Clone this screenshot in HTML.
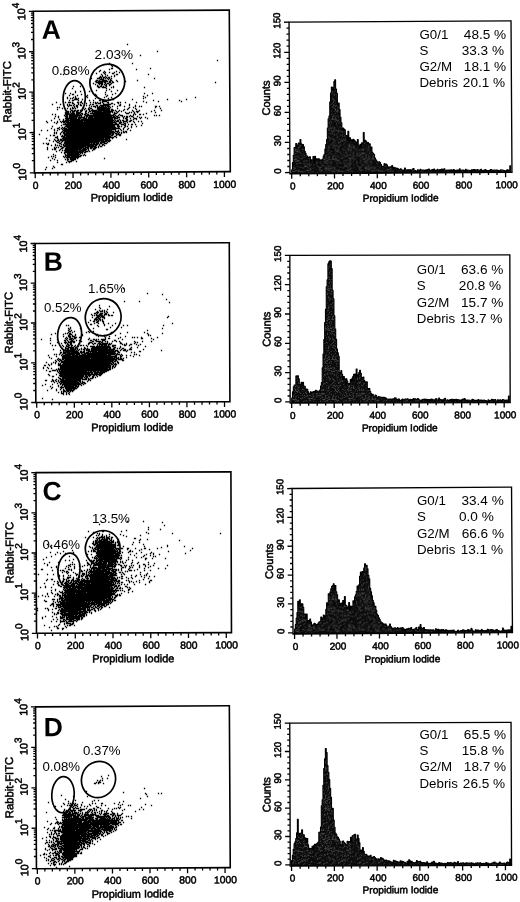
<!DOCTYPE html>
<html lang="en"><head><meta charset="utf-8"><title>Cell cycle analysis</title><style>html,body{margin:0;padding:0;background:#fff}svg{display:block}.b{stroke:#000;stroke-width:.5px}</style></head><body>
<svg width="520" height="902" viewBox="0 0 520 902" font-family='"Liberation Sans", sans-serif' fill="#000">
<defs><pattern id="hp" width="40" height="40" patternUnits="userSpaceOnUse"><rect width="40" height="40" fill="#0b0b0b"/><path d="M0 0.5h1M17 0.5h1M11 1.5h1M26 1.5h1M28 1.5h1M11 2.5h1M7 3.5h1M24 3.5h1M28 4.5h1M1 5.5h1M4 5.5h1M25 5.5h1M28 5.5h1M33 5.5h1M16 6.5h1M35 6.5h1M21 7.5h1M33 7.5h1M9 8.5h1M27 8.5h1M8 9.5h1M9 9.5h1M14 9.5h1M18 9.5h1M35 9.5h1M2 10.5h1M6 10.5h1M19 11.5h1M30 11.5h1M7 12.5h1M11 12.5h1M17 12.5h1M21 12.5h1M27 12.5h1M37 12.5h1M38 12.5h1M16 13.5h1M24 13.5h1M35 13.5h1M2 14.5h1M5 14.5h1M13 14.5h1M5 15.5h1M16 15.5h1M18 16.5h1M34 16.5h1M9 17.5h1M12 17.5h1M32 17.5h1M34 17.5h1M8 18.5h1M9 18.5h1M12 18.5h1M3 19.5h1M35 19.5h1M2 20.5h1M15 21.5h1M7 22.5h1M31 22.5h1M5 23.5h1M7 23.5h1M28 24.5h1M2 25.5h1M8 25.5h1M10 25.5h1M19 25.5h1M9 26.5h1M12 26.5h1M24 26.5h1M37 26.5h1M5 27.5h1M9 27.5h1M24 27.5h1M30 27.5h1M37 27.5h1M17 28.5h1M18 28.5h1M29 29.5h1M30 29.5h1M35 29.5h1M5 30.5h1M25 30.5h1M31 30.5h1M7 31.5h1M10 31.5h1M19 31.5h1M26 31.5h1M33 31.5h1M35 31.5h1M6 32.5h1M33 32.5h1M32 33.5h1M0 34.5h1M7 34.5h1M14 34.5h1M21 34.5h1M26 34.5h1M20 35.5h1M32 35.5h1M35 35.5h1M1 36.5h1M9 36.5h1M18 36.5h1M31 36.5h1M15 37.5h1M33 37.5h1M39 37.5h1M22 38.5h1M32 38.5h1M21 39.5h1M35 39.5h1M39 39.5h1" stroke="#222222" stroke-width="1" fill="none"/><path d="M3 0.5h1M14 0.5h1M24 0.5h1M33 0.5h1M4 1.5h1M25 1.5h1M33 1.5h1M36 1.5h1M0 3.5h1M1 4.5h1M16 4.5h1M24 4.5h1M17 6.5h1M10 7.5h1M12 7.5h1M13 7.5h1M14 7.5h1M20 7.5h1M30 8.5h1M32 8.5h1M38 8.5h1M39 8.5h1M30 9.5h1M11 10.5h1M30 10.5h1M4 11.5h1M21 11.5h1M30 12.5h1M9 13.5h1M29 13.5h1M0 14.5h1M16 14.5h1M27 14.5h1M35 14.5h1M21 15.5h1M25 15.5h1M39 15.5h1M3 16.5h1M8 16.5h1M16 16.5h1M36 16.5h1M39 17.5h1M16 18.5h1M21 18.5h1M25 18.5h1M9 19.5h1M10 19.5h1M3 20.5h1M25 20.5h1M13 21.5h1M27 21.5h1M20 22.5h1M30 22.5h1M34 22.5h1M38 22.5h1M10 24.5h1M6 25.5h1M32 25.5h1M8 26.5h1M25 27.5h1M1 28.5h1M1 29.5h1M36 29.5h1M27 30.5h1M29 30.5h1M35 30.5h1M37 30.5h1M14 31.5h1M22 31.5h1M28 31.5h1M37 31.5h1M3 34.5h1M8 34.5h1M32 34.5h1M17 35.5h1M33 35.5h1M8 36.5h1M12 36.5h1M15 36.5h1M16 36.5h1M25 36.5h1M27 36.5h1M38 36.5h1M1 37.5h1M32 37.5h1M36 37.5h1M21 38.5h1M30 38.5h1M33 38.5h1M16 39.5h1M32 39.5h1" stroke="#2c2c2c" stroke-width="1" fill="none"/><path d="M7 1.5h1M10 1.5h1M9 2.5h1M29 2.5h1M31 2.5h1M39 2.5h1M4 3.5h1M11 3.5h1M18 3.5h1M26 3.5h1M33 4.5h1M36 4.5h1M24 5.5h1M29 5.5h1M2 6.5h1M5 6.5h1M5 7.5h1M7 7.5h1M19 7.5h1M38 7.5h1M39 7.5h1M22 8.5h1M29 8.5h1M5 9.5h1M0 10.5h1M5 10.5h1M15 10.5h1M12 11.5h1M14 11.5h1M17 11.5h1M22 11.5h1M24 11.5h1M32 11.5h1M28 12.5h1M29 12.5h1M32 12.5h1M7 13.5h1M10 13.5h1M18 13.5h1M25 13.5h1M36 13.5h1M11 14.5h1M14 14.5h1M22 14.5h1M4 15.5h1M27 15.5h1M6 17.5h1M10 18.5h1M6 19.5h1M12 19.5h1M25 19.5h1M1 20.5h1M9 20.5h1M25 21.5h1M19 22.5h1M39 22.5h1M3 23.5h1M4 23.5h1M15 23.5h1M24 23.5h1M11 24.5h1M27 25.5h1M29 25.5h1M31 25.5h1M38 25.5h1M2 26.5h1M17 26.5h1M19 26.5h1M13 27.5h1M29 27.5h1M31 27.5h1M6 28.5h1M31 28.5h1M34 28.5h1M17 29.5h1M23 29.5h1M2 30.5h1M7 30.5h1M24 30.5h1M28 30.5h1M11 31.5h1M17 32.5h1M30 32.5h1M31 32.5h1M2 33.5h1M9 33.5h1M23 33.5h1M36 33.5h1M37 33.5h1M29 34.5h1M6 35.5h1M13 35.5h1M30 35.5h1M37 35.5h1M38 35.5h1M5 37.5h1M9 37.5h1M12 37.5h1M0 38.5h1M2 39.5h1M11 39.5h1M14 39.5h1M29 39.5h1" stroke="#363636" stroke-width="1" fill="none"/><path d="M6 0.5h1M7 0.5h1M16 0.5h1M26 0.5h1M29 0.5h1M30 0.5h1M5 1.5h1M15 1.5h1M3 2.5h1M19 2.5h1M36 2.5h1M9 3.5h1M16 3.5h1M23 3.5h1M36 3.5h1M7 5.5h1M10 5.5h1M25 6.5h1M29 6.5h1M23 7.5h1M27 7.5h1M4 8.5h1M6 8.5h1M8 8.5h1M10 8.5h1M13 9.5h1M29 9.5h1M1 10.5h1M8 10.5h1M9 10.5h1M16 10.5h1M18 10.5h1M28 10.5h1M38 10.5h1M0 11.5h1M11 11.5h1M18 11.5h1M22 12.5h1M12 13.5h1M14 15.5h1M20 15.5h1M24 15.5h1M35 15.5h1M26 16.5h1M32 16.5h1M0 17.5h1M8 17.5h1M19 19.5h1M27 19.5h1M17 20.5h1M21 20.5h1M22 20.5h1M20 21.5h1M18 22.5h1M12 23.5h1M37 23.5h1M3 24.5h1M23 24.5h1M29 24.5h1M14 25.5h1M16 25.5h1M8 27.5h1M12 27.5h1M39 27.5h1M14 28.5h1M39 29.5h1M3 30.5h1M8 30.5h1M9 32.5h1M19 32.5h1M3 33.5h1M4 33.5h1M15 33.5h1M20 33.5h1M33 33.5h1M39 33.5h1M36 34.5h1M5 35.5h1M22 35.5h1M27 35.5h1M29 35.5h1M39 35.5h1M5 36.5h1M26 36.5h1M36 36.5h1M8 37.5h1M18 37.5h1M22 37.5h1M24 37.5h1M5 38.5h1M7 38.5h1M15 38.5h1M20 38.5h1M8 39.5h1M13 39.5h1M15 39.5h1M34 39.5h1" stroke="#424242" stroke-width="1" fill="none"/><path d="M18 0.5h1M0 1.5h1M17 1.5h1M23 1.5h1M5 2.5h1M6 3.5h1M20 3.5h1M29 3.5h1M27 4.5h1M30 4.5h1M2 5.5h1M8 6.5h1M24 6.5h1M26 6.5h1M37 6.5h1M0 7.5h1M5 8.5h1M11 8.5h1M14 8.5h1M7 9.5h1M39 9.5h1M26 10.5h1M27 10.5h1M13 11.5h1M20 11.5h1M30 13.5h1M4 14.5h1M7 14.5h1M1 15.5h1M28 15.5h1M22 16.5h1M24 16.5h1M30 16.5h1M17 17.5h1M28 18.5h1M37 18.5h1M39 18.5h1M13 19.5h1M23 19.5h1M37 19.5h1M14 20.5h1M24 20.5h1M22 21.5h1M31 21.5h1M0 22.5h1M6 22.5h1M13 22.5h1M18 23.5h1M39 23.5h1M1 25.5h1M13 25.5h1M20 25.5h1M15 26.5h1M28 26.5h1M29 26.5h1M33 26.5h1M18 27.5h1M33 27.5h1M8 28.5h1M28 28.5h1M33 28.5h1M38 28.5h1M3 29.5h1M15 29.5h1M22 29.5h1M27 29.5h1M1 30.5h1M15 30.5h1M18 30.5h1M30 30.5h1M39 30.5h1M16 31.5h1M17 31.5h1M25 32.5h1M1 33.5h1M26 33.5h1M2 34.5h1M11 34.5h1M0 35.5h1M24 35.5h1M13 36.5h1M33 36.5h1M2 37.5h1M12 38.5h1M28 38.5h1M29 38.5h1M31 38.5h1M3 39.5h1M4 39.5h1M9 39.5h1M12 39.5h1" stroke="#505050" stroke-width="1" fill="none"/></pattern></defs>
<rect width="520" height="902" fill="#fff"/>
<g id="scatter-A">
<g transform="rotate(-0.36 33.9 92.1)">
<path d="M33.9 11.3H229.8V172.85H33.9Z" fill="#fff" stroke="#000" stroke-width="1.6"/>
<path d="M29.3 172.8H33.9M31.4 160.7H33.9M31.4 153.6H33.9M31.4 148.5H33.9M31.4 144.6H33.9M31.4 141.4H33.9M31.4 138.7H33.9M31.4 136.4H33.9M31.4 134.3H33.9M29.3 132.5H33.9M31.4 120.3H33.9M31.4 113.2H33.9M31.4 108.1H33.9M31.4 104.2H33.9M31.4 101.0H33.9M31.4 98.3H33.9M31.4 96.0H33.9M31.4 93.9H33.9M29.3 92.1H33.9M31.4 79.9H33.9M31.4 72.8H33.9M31.4 67.8H33.9M31.4 63.8H33.9M31.4 60.6H33.9M31.4 57.9H33.9M31.4 55.6H33.9M31.4 53.5H33.9M29.3 51.7H33.9M31.4 39.5H33.9M31.4 32.4H33.9M31.4 27.4H33.9M31.4 23.5H33.9M31.4 20.3H33.9M31.4 17.6H33.9M31.4 15.2H33.9M31.4 13.1H33.9M29.3 11.3H33.9M34.7 172.85V178.2M42.3 172.85V175.7M49.8 172.85V175.7M57.4 172.85V175.7M65.0 172.85V175.7M72.5 172.85V178.2M80.1 172.85V175.7M87.7 172.85V175.7M95.2 172.85V175.7M102.8 172.85V175.7M110.4 172.85V178.2M117.9 172.85V175.7M125.5 172.85V175.7M133.1 172.85V175.7M140.7 172.85V175.7M148.2 172.85V178.2M155.8 172.85V175.7M163.4 172.85V175.7M170.9 172.85V175.7M178.5 172.85V175.7M186.1 172.85V178.2M193.6 172.85V175.7M201.2 172.85V175.7M208.8 172.85V175.7M216.3 172.85V175.7M223.9 172.85V178.2" stroke="#000" stroke-width="1.3" fill="none"/>
<text x="35.0" y="189.1" font-size="10.3" text-anchor="middle" class="b">0</text>
<text x="72.8" y="189.1" font-size="10.3" text-anchor="middle" class="b">200</text>
<text x="110.7" y="189.1" font-size="10.3" text-anchor="middle" class="b">400</text>
<text x="148.5" y="189.1" font-size="10.3" text-anchor="middle" class="b">600</text>
<text x="186.4" y="189.1" font-size="10.3" text-anchor="middle" class="b">800</text>
<text x="224.2" y="189.1" font-size="10.3" text-anchor="middle" class="b">1000</text>
<text x="131.0" y="201.8" font-size="10.95" text-anchor="middle" class="b">Propidium Iodide</text>
<text transform="translate(25.6 180.4) rotate(-90)" font-size="10.8" class="b">10<tspan dy="-6.0" font-size="10">0</tspan></text>
<text transform="translate(25.6 140.1) rotate(-90)" font-size="10.8" class="b">10<tspan dy="-6.0" font-size="10">1</tspan></text>
<text transform="translate(25.6 99.7) rotate(-90)" font-size="10.8" class="b">10<tspan dy="-6.0" font-size="10">2</tspan></text>
<text transform="translate(25.6 59.3) rotate(-90)" font-size="10.8" class="b">10<tspan dy="-6.0" font-size="10">3</tspan></text>
<text transform="translate(25.6 20.2) rotate(-90)" font-size="10.8" class="b">10<tspan dy="-6.0" font-size="10">4</tspan></text>
<text transform="translate(11.1 91.7) rotate(-90)" font-size="11.3" text-anchor="middle" class="b">Rabbit-FITC</text>
<text x="42.1" y="38.9" font-size="26.5" font-weight="bold">A</text>
</g>
<path d="M126.85 44.5h1.3M156.85 51.5h1.3M139.85 55.5h1.3M216.85 60.5h1.3M108.85 63.5h1.3M131.85 63.5h1.3M110.85 65.5h1.3M111.85 66.5h1.3M110.85 68.5h2.3M149.85 68.5h1.3M108.85 69.5h1.3M135.85 69.5h1.3M99.85 70.5h1.3M98.85 71.5h1.3M103.85 71.5h1.3M115.85 71.5h1.3M102.85 72.5h1.3M104.85 72.5h1.3M108.85 72.5h1.3M113.85 72.5h1.3M118.85 72.5h1.3M95.85 73.5h1.3M103.85 73.5h1.3M111.85 73.5h2.3M62.85 74.5h1.3M100.85 74.5h1.3M104.85 74.5h1.3M115.85 74.5h2.3M147.85 74.5h1.3M101.85 75.5h1.3M106.85 75.5h1.3M113.85 75.5h1.3M99.85 76.5h1.3M101.85 76.5h1.3M104.85 76.5h1.3M110.85 76.5h1.3M113.85 76.5h1.3M98.85 77.5h3.3M102.85 77.5h2.3M105.85 77.5h1.3M107.85 77.5h2.3M90.85 78.5h1.3M96.85 78.5h3.3M100.85 78.5h1.3M102.85 78.5h1.3M104.85 78.5h1.3M106.85 78.5h1.3M108.85 78.5h1.3M110.85 78.5h1.3M153.85 78.5h1.3M99.85 79.5h4.3M107.85 79.5h1.3M109.85 79.5h1.3M95.85 80.5h2.3M98.85 80.5h1.3M101.85 80.5h5.3M109.85 80.5h2.3M115.85 80.5h1.3M136.85 80.5h1.3M94.85 81.5h2.3M97.85 81.5h10.3M108.85 81.5h2.3M111.85 81.5h1.3M116.85 81.5h1.3M124.85 81.5h1.3M95.85 82.5h7.3M103.85 82.5h2.3M108.85 82.5h2.3M111.85 82.5h2.3M214.85 82.5h1.3M92.85 83.5h1.3M97.85 83.5h5.3M104.85 83.5h1.3M106.85 83.5h2.3M110.85 83.5h1.3M94.85 84.5h1.3M98.85 84.5h1.3M100.85 84.5h2.3M103.85 84.5h1.3M105.85 84.5h1.3M108.85 84.5h2.3M96.85 85.5h1.3M100.85 85.5h1.3M104.85 85.5h2.3M108.85 85.5h1.3M72.85 86.5h1.3M79.85 86.5h1.3M96.85 86.5h2.3M99.85 86.5h2.3M102.85 86.5h1.3M105.85 86.5h1.3M112.85 86.5h1.3M97.85 87.5h2.3M101.85 87.5h4.3M110.85 87.5h1.3M112.85 87.5h1.3M143.85 87.5h1.3M71.85 88.5h1.3M105.85 88.5h1.3M108.85 89.5h1.3M90.85 90.5h1.3M95.85 90.5h1.3M105.85 90.5h1.3M116.85 90.5h1.3M74.85 91.5h1.3M79.85 91.5h1.3M88.85 91.5h1.3M110.85 91.5h1.3M74.85 92.5h1.3M104.85 92.5h1.3M64.85 93.5h1.3M69.85 93.5h1.3M114.85 93.5h1.3M143.85 93.5h1.3M151.85 93.5h1.3M71.85 94.5h2.3M80.85 94.5h1.3M94.85 94.5h1.3M104.85 94.5h1.3M111.85 94.5h1.3M68.85 95.5h1.3M76.85 95.5h1.3M86.85 95.5h1.3M95.85 95.5h1.3M106.85 95.5h1.3M146.85 95.5h1.3M74.85 96.5h1.3M85.85 96.5h1.3M105.85 96.5h1.3M142.85 96.5h1.3M66.85 97.5h1.3M72.85 97.5h1.3M74.85 97.5h1.3M86.85 97.5h1.3M103.85 97.5h1.3M110.85 97.5h1.3M144.85 97.5h1.3M194.85 97.5h1.3M66.85 98.5h1.3M69.85 98.5h1.3M71.85 98.5h1.3M74.85 98.5h2.3M77.85 98.5h1.3M94.85 98.5h1.3M107.85 98.5h1.3M142.85 98.5h1.3M73.85 99.5h4.3M81.85 99.5h1.3M111.85 99.5h2.3M131.85 99.5h1.3M166.85 99.5h1.3M185.85 99.5h1.3M68.85 100.5h1.3M71.85 100.5h2.3M77.85 100.5h1.3M88.85 100.5h1.3M92.85 100.5h1.3M98.85 100.5h2.3M101.85 100.5h2.3M107.85 100.5h1.3M152.85 100.5h1.3M178.85 100.5h1.3M80.85 101.5h1.3M83.85 101.5h1.3M101.85 101.5h5.3M142.85 101.5h1.3M157.85 101.5h1.3M180.85 101.5h1.3M55.85 102.5h1.3M64.85 102.5h1.3M67.85 102.5h3.3M71.85 102.5h1.3M76.85 102.5h2.3M79.85 102.5h2.3M89.85 102.5h1.3M92.85 102.5h1.3M94.85 102.5h1.3M96.85 102.5h1.3M99.85 102.5h1.3M101.85 102.5h1.3M106.85 102.5h2.3M116.85 102.5h2.3M119.85 102.5h1.3M124.85 102.5h1.3M135.85 102.5h1.3M145.85 102.5h1.3M71.85 103.5h2.3M77.85 103.5h1.3M81.85 103.5h1.3M85.85 103.5h1.3M94.85 103.5h2.3M97.85 103.5h3.3M102.85 103.5h1.3M107.85 103.5h1.3M110.85 103.5h2.3M117.85 103.5h1.3M51.85 104.5h1.3M59.85 104.5h1.3M66.85 104.5h1.3M68.85 104.5h1.3M73.85 104.5h1.3M77.85 104.5h1.3M79.85 104.5h1.3M89.85 104.5h1.3M91.85 104.5h2.3M102.85 104.5h8.3M113.85 104.5h1.3M119.85 104.5h1.3M128.85 104.5h1.3M66.85 105.5h1.3M68.85 105.5h3.3M72.85 105.5h1.3M75.85 105.5h2.3M79.85 105.5h2.3M85.85 105.5h1.3M88.85 105.5h1.3M95.85 105.5h2.3M99.85 105.5h9.3M118.85 105.5h2.3M128.85 105.5h1.3M134.85 105.5h1.3M67.85 106.5h1.3M73.85 106.5h1.3M75.85 106.5h2.3M90.85 106.5h1.3M92.85 106.5h3.3M96.85 106.5h1.3M98.85 106.5h1.3M100.85 106.5h3.3M104.85 106.5h1.3M106.85 106.5h3.3M111.85 106.5h1.3M116.85 106.5h1.3M123.85 106.5h1.3M134.85 106.5h1.3M138.85 106.5h1.3M140.85 106.5h1.3M154.85 106.5h2.3M158.85 106.5h1.3M56.85 107.5h1.3M58.85 107.5h1.3M71.85 107.5h1.3M73.85 107.5h1.3M76.85 107.5h1.3M82.85 107.5h1.3M88.85 107.5h1.3M94.85 107.5h1.3M96.85 107.5h10.3M107.85 107.5h1.3M109.85 107.5h1.3M128.85 107.5h1.3M132.85 107.5h1.3M154.85 107.5h1.3M61.85 108.5h1.3M66.85 108.5h1.3M69.85 108.5h1.3M71.85 108.5h2.3M74.85 108.5h1.3M81.85 108.5h1.3M84.85 108.5h1.3M87.85 108.5h1.3M89.85 108.5h2.3M96.85 108.5h13.3M116.85 108.5h1.3M127.85 108.5h1.3M134.85 108.5h1.3M159.85 108.5h1.3M56.85 109.5h1.3M69.85 109.5h1.3M81.85 109.5h1.3M83.85 109.5h1.3M87.85 109.5h2.3M91.85 109.5h1.3M96.85 109.5h13.3M110.85 109.5h2.3M123.85 109.5h1.3M126.85 109.5h1.3M135.85 109.5h1.3M70.85 110.5h2.3M73.85 110.5h2.3M76.85 110.5h2.3M79.85 110.5h3.3M85.85 110.5h1.3M88.85 110.5h1.3M90.85 110.5h6.3M97.85 110.5h12.3M110.85 110.5h3.3M114.85 110.5h1.3M118.85 110.5h1.3M122.85 110.5h1.3M131.85 110.5h1.3M138.85 110.5h1.3M153.85 110.5h1.3M160.85 110.5h1.3M66.85 111.5h2.3M69.85 111.5h1.3M71.85 111.5h3.3M75.85 111.5h2.3M84.85 111.5h2.3M88.85 111.5h2.3M91.85 111.5h10.3M102.85 111.5h10.3M115.85 111.5h1.3M117.85 111.5h1.3M120.85 111.5h1.3M132.85 111.5h1.3M135.85 111.5h3.3M150.85 111.5h1.3M64.85 112.5h1.3M66.85 112.5h2.3M69.85 112.5h1.3M71.85 112.5h2.3M75.85 112.5h3.3M84.85 112.5h1.3M87.85 112.5h1.3M91.85 112.5h1.3M93.85 112.5h17.3M111.85 112.5h1.3M113.85 112.5h1.3M116.85 112.5h1.3M124.85 112.5h1.3M128.85 112.5h1.3M130.85 112.5h1.3M133.85 112.5h1.3M136.85 112.5h1.3M154.85 112.5h1.3M64.85 113.5h3.3M70.85 113.5h4.3M75.85 113.5h2.3M78.85 113.5h1.3M80.85 113.5h2.3M84.85 113.5h2.3M89.85 113.5h20.3M113.85 113.5h3.3M125.85 113.5h3.3M133.85 113.5h1.3M145.85 113.5h1.3M51.85 114.5h1.3M54.85 114.5h1.3M64.85 114.5h3.3M68.85 114.5h6.3M75.85 114.5h3.3M79.85 114.5h1.3M81.85 114.5h1.3M83.85 114.5h2.3M86.85 114.5h2.3M92.85 114.5h18.3M112.85 114.5h2.3M118.85 114.5h1.3M132.85 114.5h1.3M134.85 114.5h1.3M138.85 114.5h2.3M142.85 114.5h1.3M63.85 115.5h1.3M65.85 115.5h2.3M68.85 115.5h13.3M84.85 115.5h29.3M114.85 115.5h1.3M117.85 115.5h1.3M119.85 115.5h3.3M129.85 115.5h1.3M132.85 115.5h1.3M153.85 115.5h1.3M155.85 115.5h1.3M158.85 115.5h1.3M54.85 116.5h1.3M57.85 116.5h1.3M64.85 116.5h3.3M68.85 116.5h9.3M78.85 116.5h1.3M80.85 116.5h1.3M83.85 116.5h1.3M85.85 116.5h2.3M88.85 116.5h23.3M112.85 116.5h2.3M115.85 116.5h2.3M121.85 116.5h1.3M123.85 116.5h1.3M125.85 116.5h2.3M128.85 116.5h1.3M130.85 116.5h2.3M136.85 116.5h1.3M57.85 117.5h1.3M65.85 117.5h2.3M68.85 117.5h8.3M77.85 117.5h7.3M85.85 117.5h1.3M87.85 117.5h5.3M93.85 117.5h22.3M116.85 117.5h3.3M122.85 117.5h1.3M125.85 117.5h2.3M132.85 117.5h1.3M138.85 117.5h1.3M140.85 117.5h1.3M144.85 117.5h1.3M53.85 118.5h1.3M64.85 118.5h12.3M77.85 118.5h3.3M82.85 118.5h4.3M87.85 118.5h25.3M113.85 118.5h4.3M122.85 118.5h1.3M124.85 118.5h2.3M129.85 118.5h1.3M133.85 118.5h3.3M139.85 118.5h1.3M146.85 118.5h1.3M58.85 119.5h1.3M62.85 119.5h1.3M65.85 119.5h3.3M69.85 119.5h10.3M80.85 119.5h32.3M113.85 119.5h1.3M118.85 119.5h1.3M125.85 119.5h2.3M132.85 119.5h1.3M135.85 119.5h1.3M50.85 120.5h1.3M62.85 120.5h1.3M64.85 120.5h49.3M114.85 120.5h1.3M116.85 120.5h2.3M119.85 120.5h1.3M121.85 120.5h2.3M125.85 120.5h2.3M129.85 120.5h2.3M45.85 121.5h1.3M56.85 121.5h1.3M59.85 121.5h1.3M61.85 121.5h7.3M69.85 121.5h13.3M83.85 121.5h29.3M113.85 121.5h1.3M115.85 121.5h3.3M119.85 121.5h1.3M122.85 121.5h4.3M128.85 121.5h2.3M132.85 121.5h1.3M137.85 121.5h1.3M140.85 121.5h1.3M46.85 122.5h1.3M53.85 122.5h1.3M56.85 122.5h1.3M60.85 122.5h1.3M62.85 122.5h2.3M65.85 122.5h50.3M118.85 122.5h3.3M122.85 122.5h1.3M126.85 122.5h1.3M133.85 122.5h1.3M55.85 123.5h1.3M64.85 123.5h1.3M66.85 123.5h46.3M114.85 123.5h2.3M118.85 123.5h2.3M123.85 123.5h2.3M141.85 123.5h1.3M62.85 124.5h56.3M120.85 124.5h3.3M124.85 124.5h1.3M127.85 124.5h1.3M130.85 124.5h2.3M134.85 124.5h1.3M60.85 125.5h1.3M65.85 125.5h49.3M116.85 125.5h2.3M123.85 125.5h2.3M140.85 125.5h1.3M51.85 126.5h1.3M64.85 126.5h50.3M116.85 126.5h3.3M120.85 126.5h1.3M124.85 126.5h1.3M126.85 126.5h1.3M130.85 126.5h1.3M135.85 126.5h1.3M58.85 127.5h1.3M61.85 127.5h1.3M63.85 127.5h1.3M66.85 127.5h49.3M117.85 127.5h1.3M123.85 127.5h1.3M130.85 127.5h1.3M50.85 128.5h1.3M56.85 128.5h2.3M60.85 128.5h1.3M62.85 128.5h4.3M67.85 128.5h52.3M122.85 128.5h1.3M127.85 128.5h1.3M53.85 129.5h1.3M58.85 129.5h1.3M61.85 129.5h1.3M63.85 129.5h52.3M119.85 129.5h1.3M122.85 129.5h1.3M126.85 129.5h1.3M40.85 130.5h1.3M46.85 130.5h1.3M53.85 130.5h1.3M56.85 130.5h1.3M62.85 130.5h49.3M114.85 130.5h1.3M117.85 130.5h1.3M120.85 130.5h1.3M129.85 130.5h1.3M61.85 131.5h1.3M63.85 131.5h50.3M114.85 131.5h4.3M122.85 131.5h1.3M124.85 131.5h2.3M53.85 132.5h1.3M55.85 132.5h1.3M60.85 132.5h1.3M62.85 132.5h2.3M65.85 132.5h49.3M116.85 132.5h1.3M118.85 132.5h1.3M120.85 132.5h1.3M122.85 132.5h2.3M125.85 132.5h1.3M53.85 133.5h1.3M55.85 133.5h1.3M59.85 133.5h1.3M62.85 133.5h51.3M114.85 133.5h2.3M117.85 133.5h1.3M120.85 133.5h1.3M38.85 134.5h1.3M59.85 134.5h1.3M63.85 134.5h47.3M111.85 134.5h2.3M115.85 134.5h5.3M49.85 135.5h1.3M52.85 135.5h2.3M61.85 135.5h1.3M63.85 135.5h46.3M110.85 135.5h2.3M115.85 135.5h1.3M118.85 135.5h2.3M56.85 136.5h1.3M60.85 136.5h4.3M65.85 136.5h45.3M113.85 136.5h2.3M54.85 137.5h3.3M62.85 137.5h51.3M115.85 137.5h1.3M45.85 138.5h1.3M56.85 138.5h1.3M61.85 138.5h42.3M104.85 138.5h5.3M111.85 138.5h1.3M53.85 139.5h1.3M57.85 139.5h1.3M59.85 139.5h2.3M62.85 139.5h45.3M108.85 139.5h1.3M125.85 139.5h1.3M48.85 140.5h1.3M54.85 140.5h1.3M56.85 140.5h2.3M59.85 140.5h44.3M104.85 140.5h6.3M52.85 141.5h1.3M55.85 141.5h1.3M58.85 141.5h1.3M61.85 141.5h1.3M64.85 141.5h35.3M100.85 141.5h6.3M107.85 141.5h2.3M56.85 142.5h2.3M60.85 142.5h1.3M63.85 142.5h35.3M99.85 142.5h5.3M106.85 142.5h1.3M42.85 143.5h1.3M45.85 143.5h1.3M47.85 143.5h1.3M58.85 143.5h2.3M63.85 143.5h26.3M90.85 143.5h1.3M92.85 143.5h2.3M95.85 143.5h3.3M99.85 143.5h2.3M103.85 143.5h3.3M46.85 144.5h2.3M54.85 144.5h1.3M60.85 144.5h1.3M62.85 144.5h1.3M64.85 144.5h33.3M98.85 144.5h1.3M101.85 144.5h2.3M50.85 145.5h1.3M54.85 145.5h1.3M56.85 145.5h1.3M58.85 145.5h1.3M62.85 145.5h31.3M94.85 145.5h2.3M98.85 145.5h1.3M101.85 145.5h1.3M103.85 145.5h1.3M59.85 146.5h2.3M63.85 146.5h22.3M86.85 146.5h9.3M97.85 146.5h1.3M99.85 146.5h2.3M46.85 147.5h1.3M53.85 147.5h1.3M55.85 147.5h1.3M57.85 147.5h1.3M61.85 147.5h2.3M65.85 147.5h18.3M84.85 147.5h4.3M89.85 147.5h3.3M93.85 147.5h3.3M97.85 147.5h1.3M46.85 148.5h1.3M53.85 148.5h2.3M60.85 148.5h2.3M64.85 148.5h17.3M82.85 148.5h3.3M86.85 148.5h2.3M89.85 148.5h2.3M92.85 148.5h3.3M46.85 149.5h1.3M51.85 149.5h1.3M53.85 149.5h2.3M59.85 149.5h1.3M64.85 149.5h16.3M81.85 149.5h5.3M87.85 149.5h1.3M92.85 149.5h2.3M58.85 150.5h1.3M61.85 150.5h1.3M63.85 150.5h14.3M78.85 150.5h7.3M87.85 150.5h1.3M91.85 150.5h1.3M55.85 151.5h1.3M64.85 151.5h19.3M84.85 151.5h3.3M88.85 151.5h1.3M60.85 152.5h1.3M63.85 152.5h19.3M83.85 152.5h2.3M63.85 153.5h1.3M66.85 153.5h12.3M79.85 153.5h1.3M81.85 153.5h1.3M52.85 154.5h1.3M64.85 154.5h1.3M66.85 154.5h13.3M83.85 154.5h1.3M54.85 155.5h1.3M64.85 155.5h14.3M79.85 155.5h2.3M82.85 155.5h1.3M84.85 155.5h1.3M50.85 156.5h1.3M52.85 156.5h1.3M62.85 156.5h1.3M64.85 156.5h1.3M66.85 156.5h3.3M70.85 156.5h10.3M47.85 157.5h1.3M54.85 157.5h1.3M63.85 157.5h1.3M65.85 157.5h13.3M51.85 158.5h1.3M66.85 158.5h1.3M69.85 158.5h6.3M76.85 158.5h1.3M103.85 158.5h1.3M53.85 159.5h1.3M64.85 159.5h1.3M66.85 159.5h2.3M69.85 159.5h6.3M49.85 160.5h1.3M56.85 160.5h1.3M66.85 160.5h1.3M70.85 160.5h3.3M67.85 161.5h4.3M75.85 161.5h1.3M56.85 162.5h1.3M65.85 162.5h1.3M68.85 162.5h1.3M60.85 164.5h2.3M52.85 166.5h1.3M45.85 167.5h1.3M53.85 167.5h1.3M51.85 168.5h1.3M44.85 169.5h1.3" stroke="#000" stroke-width="1.3" fill="none"/>
<ellipse cx="74.2" cy="98.2" rx="11.1" ry="17.6" transform="rotate(3 74.2 98.2)" fill="none" stroke="#000" stroke-width="1.7"/>
<ellipse cx="107.3" cy="82.2" rx="17.3" ry="18.2" transform="rotate(20 107.3 82.2)" fill="none" stroke="#000" stroke-width="1.7"/>
<text x="51.7" y="74.6" font-size="13.5" textLength="37.9" lengthAdjust="spacingAndGlyphs">0.68%</text>
<text x="94.6" y="58.6" font-size="13.5" textLength="38.5" lengthAdjust="spacingAndGlyphs">2.03%</text>
</g>
<g id="scatter-B">
<g transform="rotate(-0.23 35.5 323.0)">
<path d="M35.5 243.5H229.6V402.5H35.5Z" fill="#fff" stroke="#000" stroke-width="1.6"/>
<path d="M30.9 402.5H35.5M33.0 390.5H35.5M33.0 383.5H35.5M33.0 378.6H35.5M33.0 374.7H35.5M33.0 371.6H35.5M33.0 368.9H35.5M33.0 366.6H35.5M33.0 364.6H35.5M30.9 362.8H35.5M33.0 350.8H35.5M33.0 343.8H35.5M33.0 338.8H35.5M33.0 335.0H35.5M33.0 331.8H35.5M33.0 329.2H35.5M33.0 326.9H35.5M33.0 324.8H35.5M30.9 323.0H35.5M33.0 311.0H35.5M33.0 304.0H35.5M33.0 299.1H35.5M33.0 295.2H35.5M33.0 292.1H35.5M33.0 289.4H35.5M33.0 287.1H35.5M33.0 285.1H35.5M30.9 283.2H35.5M33.0 271.3H35.5M33.0 264.3H35.5M33.0 259.3H35.5M33.0 255.5H35.5M33.0 252.3H35.5M33.0 249.7H35.5M33.0 247.4H35.5M33.0 245.3H35.5M30.9 243.5H35.5M36.4 402.5V407.8M43.9 402.5V405.3M51.4 402.5V405.3M58.9 402.5V405.3M66.4 402.5V405.3M74.0 402.5V407.8M81.5 402.5V405.3M89.0 402.5V405.3M96.5 402.5V405.3M104.0 402.5V405.3M111.5 402.5V407.8M119.0 402.5V405.3M126.5 402.5V405.3M134.1 402.5V405.3M141.6 402.5V405.3M149.1 402.5V407.8M156.6 402.5V405.3M164.1 402.5V405.3M171.6 402.5V405.3M179.1 402.5V405.3M186.6 402.5V407.8M194.2 402.5V405.3M201.7 402.5V405.3M209.2 402.5V405.3M216.7 402.5V405.3M224.2 402.5V407.8" stroke="#000" stroke-width="1.3" fill="none"/>
<text x="36.7" y="418.3" font-size="10.3" text-anchor="middle" class="b">0</text>
<text x="74.3" y="418.3" font-size="10.3" text-anchor="middle" class="b">200</text>
<text x="111.8" y="418.3" font-size="10.3" text-anchor="middle" class="b">400</text>
<text x="149.4" y="418.3" font-size="10.3" text-anchor="middle" class="b">600</text>
<text x="186.9" y="418.3" font-size="10.3" text-anchor="middle" class="b">800</text>
<text x="224.5" y="418.3" font-size="10.3" text-anchor="middle" class="b">1000</text>
<text x="131.8" y="431.5" font-size="10.95" text-anchor="middle" class="b">Propidium Iodide</text>
<text transform="translate(27.2 410.1) rotate(-90)" font-size="10.8" class="b">10<tspan dy="-6.0" font-size="10">0</tspan></text>
<text transform="translate(27.2 370.4) rotate(-90)" font-size="10.8" class="b">10<tspan dy="-6.0" font-size="10">1</tspan></text>
<text transform="translate(27.2 330.6) rotate(-90)" font-size="10.8" class="b">10<tspan dy="-6.0" font-size="10">2</tspan></text>
<text transform="translate(27.2 290.9) rotate(-90)" font-size="10.8" class="b">10<tspan dy="-6.0" font-size="10">3</tspan></text>
<text transform="translate(27.2 252.4) rotate(-90)" font-size="10.8" class="b">10<tspan dy="-6.0" font-size="10">4</tspan></text>
<text transform="translate(12.7 322.6) rotate(-90)" font-size="11.3" text-anchor="middle" class="b">Rabbit-FITC</text>
<text x="44.0" y="270.8" font-size="26.5" font-weight="bold">B</text>
</g>
<path d="M122.85 288.5h1.3M146.85 293.5h1.3M161.85 294.5h1.3M165.85 299.5h1.3M123.85 301.5h1.3M138.85 301.5h1.3M168.85 302.5h1.3M98.85 305.5h1.3M108.85 306.5h1.3M98.85 307.5h1.3M99.85 308.5h1.3M94.85 309.5h1.3M106.85 309.5h1.3M98.85 310.5h1.3M101.85 310.5h1.3M103.85 310.5h1.3M96.85 311.5h1.3M99.85 311.5h3.3M103.85 311.5h1.3M105.85 311.5h1.3M95.85 312.5h3.3M103.85 312.5h1.3M106.85 312.5h1.3M112.85 312.5h1.3M93.85 313.5h2.3M96.85 313.5h1.3M99.85 313.5h3.3M104.85 313.5h2.3M90.85 314.5h1.3M95.85 314.5h1.3M98.85 314.5h3.3M103.85 314.5h3.3M107.85 314.5h1.3M91.85 315.5h1.3M93.85 315.5h1.3M95.85 315.5h7.3M103.85 315.5h1.3M107.85 315.5h2.3M110.85 315.5h2.3M96.85 316.5h3.3M100.85 316.5h3.3M167.85 316.5h1.3M91.85 317.5h1.3M95.85 317.5h3.3M99.85 317.5h1.3M101.85 317.5h3.3M166.85 317.5h1.3M94.85 318.5h2.3M97.85 318.5h2.3M103.85 318.5h1.3M93.85 319.5h4.3M98.85 319.5h2.3M101.85 319.5h1.3M89.85 320.5h1.3M93.85 320.5h1.3M95.85 320.5h1.3M97.85 320.5h1.3M99.85 320.5h1.3M101.85 320.5h1.3M92.85 321.5h2.3M96.85 321.5h2.3M101.85 321.5h2.3M87.85 322.5h1.3M95.85 322.5h2.3M102.85 322.5h1.3M93.85 323.5h1.3M97.85 323.5h1.3M102.85 323.5h1.3M107.85 323.5h1.3M114.85 323.5h1.3M171.85 323.5h1.3M89.85 324.5h2.3M103.85 324.5h1.3M65.85 325.5h1.3M67.85 325.5h1.3M96.85 325.5h1.3M103.85 325.5h1.3M111.85 325.5h1.3M122.85 325.5h1.3M126.85 325.5h1.3M162.85 325.5h1.3M97.85 326.5h1.3M69.85 327.5h1.3M109.85 327.5h1.3M120.85 327.5h1.3M67.85 328.5h1.3M69.85 328.5h1.3M79.85 328.5h1.3M92.85 328.5h1.3M161.85 328.5h1.3M68.85 329.5h1.3M105.85 329.5h2.3M67.85 330.5h1.3M70.85 330.5h1.3M146.85 330.5h1.3M68.85 331.5h2.3M73.85 331.5h1.3M87.85 331.5h1.3M89.85 331.5h1.3M92.85 331.5h1.3M67.85 332.5h1.3M71.85 332.5h1.3M85.85 332.5h1.3M88.85 332.5h1.3M91.85 332.5h1.3M110.85 332.5h1.3M126.85 332.5h1.3M143.85 332.5h1.3M54.85 333.5h1.3M64.85 333.5h1.3M66.85 333.5h1.3M68.85 333.5h2.3M109.85 333.5h2.3M119.85 333.5h1.3M146.85 333.5h1.3M161.85 333.5h1.3M50.85 334.5h1.3M62.85 334.5h1.3M68.85 334.5h3.3M74.85 334.5h1.3M81.85 334.5h1.3M94.85 334.5h1.3M96.85 334.5h1.3M147.85 334.5h1.3M67.85 335.5h2.3M71.85 335.5h1.3M74.85 335.5h1.3M81.85 335.5h1.3M95.85 335.5h1.3M99.85 335.5h1.3M103.85 335.5h1.3M105.85 335.5h1.3M114.85 335.5h1.3M147.85 335.5h1.3M149.85 335.5h1.3M62.85 336.5h1.3M67.85 336.5h3.3M71.85 336.5h3.3M97.85 336.5h1.3M103.85 336.5h1.3M108.85 336.5h1.3M124.85 336.5h1.3M65.85 337.5h1.3M68.85 337.5h2.3M73.85 337.5h3.3M78.85 337.5h2.3M104.85 337.5h1.3M119.85 337.5h1.3M131.85 337.5h1.3M133.85 337.5h1.3M136.85 337.5h1.3M140.85 337.5h1.3M156.85 337.5h1.3M49.85 338.5h1.3M64.85 338.5h1.3M66.85 338.5h1.3M69.85 338.5h3.3M73.85 338.5h2.3M88.85 338.5h1.3M104.85 338.5h1.3M107.85 338.5h2.3M117.85 338.5h1.3M140.85 338.5h2.3M150.85 338.5h1.3M40.85 339.5h1.3M56.85 339.5h1.3M65.85 339.5h1.3M68.85 339.5h3.3M72.85 339.5h1.3M87.85 339.5h1.3M92.85 339.5h2.3M95.85 339.5h1.3M97.85 339.5h1.3M100.85 339.5h5.3M121.85 339.5h1.3M152.85 339.5h1.3M49.85 340.5h1.3M63.85 340.5h2.3M66.85 340.5h1.3M70.85 340.5h2.3M75.85 340.5h1.3M78.85 340.5h1.3M89.85 340.5h2.3M94.85 340.5h2.3M101.85 340.5h3.3M113.85 340.5h2.3M64.85 341.5h1.3M67.85 341.5h1.3M69.85 341.5h5.3M80.85 341.5h1.3M91.85 341.5h2.3M95.85 341.5h5.3M101.85 341.5h1.3M104.85 341.5h1.3M106.85 341.5h1.3M111.85 341.5h1.3M115.85 341.5h1.3M118.85 341.5h1.3M133.85 341.5h1.3M141.85 341.5h1.3M150.85 341.5h1.3M56.85 342.5h2.3M63.85 342.5h3.3M67.85 342.5h4.3M72.85 342.5h2.3M88.85 342.5h3.3M98.85 342.5h1.3M100.85 342.5h2.3M106.85 342.5h1.3M119.85 342.5h1.3M134.85 342.5h1.3M136.85 342.5h1.3M49.85 343.5h1.3M60.85 343.5h1.3M64.85 343.5h1.3M66.85 343.5h1.3M69.85 343.5h2.3M78.85 343.5h1.3M87.85 343.5h2.3M91.85 343.5h1.3M93.85 343.5h2.3M97.85 343.5h3.3M101.85 343.5h6.3M108.85 343.5h1.3M110.85 343.5h1.3M119.85 343.5h2.3M125.85 343.5h1.3M133.85 343.5h1.3M66.85 344.5h2.3M69.85 344.5h2.3M77.85 344.5h1.3M87.85 344.5h1.3M92.85 344.5h1.3M96.85 344.5h1.3M98.85 344.5h8.3M107.85 344.5h3.3M121.85 344.5h1.3M123.85 344.5h1.3M125.85 344.5h1.3M129.85 344.5h2.3M135.85 344.5h1.3M139.85 344.5h1.3M51.85 345.5h1.3M54.85 345.5h1.3M61.85 345.5h1.3M65.85 345.5h1.3M67.85 345.5h2.3M70.85 345.5h2.3M74.85 345.5h1.3M79.85 345.5h2.3M82.85 345.5h1.3M85.85 345.5h1.3M96.85 345.5h1.3M98.85 345.5h1.3M100.85 345.5h2.3M103.85 345.5h3.3M107.85 345.5h1.3M111.85 345.5h4.3M123.85 345.5h2.3M128.85 345.5h1.3M137.85 345.5h1.3M62.85 346.5h1.3M65.85 346.5h3.3M70.85 346.5h1.3M73.85 346.5h1.3M77.85 346.5h1.3M86.85 346.5h1.3M89.85 346.5h5.3M95.85 346.5h14.3M111.85 346.5h2.3M119.85 346.5h1.3M144.85 346.5h1.3M64.85 347.5h1.3M67.85 347.5h6.3M74.85 347.5h1.3M83.85 347.5h1.3M91.85 347.5h19.3M113.85 347.5h2.3M119.85 347.5h1.3M130.85 347.5h1.3M136.85 347.5h1.3M64.85 348.5h4.3M69.85 348.5h4.3M76.85 348.5h1.3M80.85 348.5h1.3M83.85 348.5h2.3M86.85 348.5h1.3M90.85 348.5h17.3M108.85 348.5h2.3M112.85 348.5h2.3M116.85 348.5h1.3M118.85 348.5h1.3M121.85 348.5h2.3M129.85 348.5h1.3M52.85 349.5h1.3M64.85 349.5h1.3M66.85 349.5h2.3M69.85 349.5h6.3M76.85 349.5h1.3M78.85 349.5h1.3M80.85 349.5h1.3M82.85 349.5h2.3M85.85 349.5h4.3M90.85 349.5h24.3M120.85 349.5h1.3M123.85 349.5h2.3M128.85 349.5h3.3M142.85 349.5h1.3M59.85 350.5h1.3M62.85 350.5h8.3M72.85 350.5h2.3M75.85 350.5h1.3M77.85 350.5h1.3M83.85 350.5h1.3M85.85 350.5h4.3M90.85 350.5h23.3M114.85 350.5h3.3M119.85 350.5h1.3M122.85 350.5h3.3M126.85 350.5h1.3M160.85 350.5h1.3M62.85 351.5h1.3M64.85 351.5h13.3M79.85 351.5h2.3M82.85 351.5h2.3M87.85 351.5h9.3M97.85 351.5h18.3M116.85 351.5h2.3M125.85 351.5h1.3M138.85 351.5h2.3M59.85 352.5h2.3M62.85 352.5h7.3M70.85 352.5h8.3M79.85 352.5h5.3M85.85 352.5h3.3M89.85 352.5h1.3M91.85 352.5h23.3M117.85 352.5h2.3M130.85 352.5h1.3M133.85 352.5h1.3M59.85 353.5h1.3M62.85 353.5h3.3M66.85 353.5h13.3M80.85 353.5h1.3M83.85 353.5h32.3M116.85 353.5h1.3M53.85 354.5h1.3M55.85 354.5h1.3M58.85 354.5h1.3M61.85 354.5h1.3M64.85 354.5h10.3M75.85 354.5h4.3M81.85 354.5h4.3M86.85 354.5h20.3M107.85 354.5h7.3M115.85 354.5h4.3M120.85 354.5h1.3M133.85 354.5h1.3M135.85 354.5h1.3M47.85 355.5h1.3M60.85 355.5h1.3M62.85 355.5h8.3M71.85 355.5h6.3M78.85 355.5h32.3M114.85 355.5h2.3M119.85 355.5h1.3M121.85 355.5h1.3M125.85 355.5h1.3M129.85 355.5h1.3M138.85 355.5h1.3M55.85 356.5h1.3M61.85 356.5h55.3M119.85 356.5h2.3M132.85 356.5h1.3M48.85 357.5h1.3M61.85 357.5h51.3M113.85 357.5h3.3M117.85 357.5h1.3M119.85 357.5h1.3M125.85 357.5h1.3M50.85 358.5h1.3M57.85 358.5h1.3M61.85 358.5h28.3M90.85 358.5h24.3M115.85 358.5h3.3M119.85 358.5h2.3M122.85 358.5h1.3M56.85 359.5h1.3M58.85 359.5h2.3M61.85 359.5h2.3M64.85 359.5h52.3M117.85 359.5h5.3M54.85 360.5h1.3M57.85 360.5h1.3M59.85 360.5h2.3M63.85 360.5h50.3M114.85 360.5h2.3M121.85 360.5h2.3M55.85 361.5h1.3M58.85 361.5h1.3M60.85 361.5h52.3M113.85 361.5h2.3M116.85 361.5h1.3M45.85 362.5h1.3M52.85 362.5h1.3M54.85 362.5h1.3M60.85 362.5h50.3M111.85 362.5h2.3M116.85 362.5h2.3M50.85 363.5h1.3M54.85 363.5h1.3M57.85 363.5h1.3M59.85 363.5h1.3M62.85 363.5h49.3M112.85 363.5h1.3M114.85 363.5h1.3M117.85 363.5h1.3M47.85 364.5h1.3M50.85 364.5h1.3M57.85 364.5h3.3M61.85 364.5h48.3M110.85 364.5h2.3M113.85 364.5h3.3M43.85 365.5h2.3M48.85 365.5h1.3M57.85 365.5h53.3M112.85 365.5h1.3M114.85 365.5h1.3M59.85 366.5h51.3M111.85 366.5h2.3M114.85 366.5h1.3M42.85 367.5h1.3M46.85 367.5h1.3M59.85 367.5h51.3M111.85 367.5h1.3M113.85 367.5h1.3M42.85 368.5h1.3M47.85 368.5h1.3M50.85 368.5h1.3M57.85 368.5h1.3M59.85 368.5h48.3M108.85 368.5h2.3M111.85 368.5h1.3M55.85 369.5h1.3M57.85 369.5h53.3M45.85 370.5h1.3M51.85 370.5h4.3M56.85 370.5h1.3M58.85 370.5h1.3M60.85 370.5h48.3M48.85 371.5h2.3M56.85 371.5h1.3M58.85 371.5h28.3M87.85 371.5h1.3M89.85 371.5h2.3M92.85 371.5h3.3M96.85 371.5h2.3M99.85 371.5h7.3M57.85 372.5h1.3M59.85 372.5h33.3M93.85 372.5h11.3M58.85 373.5h31.3M90.85 373.5h2.3M93.85 373.5h4.3M98.85 373.5h4.3M47.85 374.5h1.3M55.85 374.5h1.3M59.85 374.5h42.3M48.85 375.5h1.3M58.85 375.5h25.3M84.85 375.5h2.3M87.85 375.5h3.3M92.85 375.5h2.3M95.85 375.5h1.3M98.85 375.5h2.3M51.85 376.5h2.3M59.85 376.5h24.3M84.85 376.5h3.3M88.85 376.5h1.3M91.85 376.5h2.3M96.85 376.5h1.3M57.85 377.5h1.3M61.85 377.5h21.3M83.85 377.5h1.3M85.85 377.5h2.3M91.85 377.5h2.3M94.85 377.5h1.3M58.85 378.5h2.3M61.85 378.5h21.3M84.85 378.5h2.3M87.85 378.5h1.3M89.85 378.5h3.3M51.85 379.5h1.3M55.85 379.5h1.3M59.85 379.5h4.3M64.85 379.5h16.3M81.85 379.5h5.3M87.85 379.5h2.3M44.85 380.5h2.3M51.85 380.5h2.3M54.85 380.5h1.3M57.85 380.5h1.3M60.85 380.5h20.3M87.85 380.5h1.3M89.85 380.5h1.3M50.85 381.5h1.3M52.85 381.5h1.3M55.85 381.5h1.3M57.85 381.5h1.3M59.85 381.5h18.3M78.85 381.5h2.3M81.85 381.5h1.3M86.85 381.5h1.3M53.85 382.5h1.3M58.85 382.5h1.3M60.85 382.5h18.3M79.85 382.5h1.3M81.85 382.5h3.3M56.85 383.5h1.3M59.85 383.5h2.3M62.85 383.5h17.3M80.85 383.5h2.3M83.85 383.5h2.3M44.85 384.5h1.3M51.85 384.5h1.3M59.85 384.5h1.3M61.85 384.5h19.3M82.85 384.5h1.3M41.85 385.5h1.3M57.85 385.5h1.3M61.85 385.5h1.3M63.85 385.5h13.3M77.85 385.5h1.3M80.85 385.5h1.3M49.85 386.5h1.3M57.85 386.5h1.3M60.85 386.5h1.3M63.85 386.5h10.3M74.85 386.5h4.3M51.85 387.5h1.3M59.85 387.5h4.3M64.85 387.5h11.3M76.85 387.5h1.3M50.85 388.5h1.3M60.85 388.5h1.3M64.85 388.5h12.3M55.85 389.5h1.3M59.85 389.5h1.3M62.85 389.5h1.3M65.85 389.5h6.3M72.85 389.5h2.3M46.85 390.5h1.3M55.85 390.5h1.3M62.85 390.5h2.3M65.85 390.5h8.3M60.85 391.5h1.3M62.85 391.5h3.3M66.85 391.5h2.3M69.85 391.5h1.3M71.85 391.5h1.3M57.85 392.5h1.3M60.85 392.5h1.3M62.85 392.5h1.3M65.85 392.5h1.3M68.85 392.5h1.3M60.85 393.5h3.3M65.85 393.5h1.3M67.85 393.5h1.3M62.85 394.5h1.3M65.85 394.5h1.3M68.85 394.5h1.3M41.85 398.5h1.3M51.85 399.5h1.3" stroke="#000" stroke-width="1.3" fill="none"/>
<ellipse cx="69.6" cy="334.6" rx="11.9" ry="17.0" transform="rotate(6 69.6 334.6)" fill="none" stroke="#000" stroke-width="1.7"/>
<ellipse cx="103.2" cy="317.2" rx="17.8" ry="18.7" transform="rotate(20 103.2 317.2)" fill="none" stroke="#000" stroke-width="1.7"/>
<text x="44.0" y="311.8" font-size="13.5" textLength="37.5" lengthAdjust="spacingAndGlyphs">0.52%</text>
<text x="88.0" y="292.5" font-size="13.5" textLength="37.5" lengthAdjust="spacingAndGlyphs">1.65%</text>
</g>
<g id="scatter-C">
<g transform="rotate(-0.2 36.2 553.0)">
<path d="M36.2 472.6H231.2V633.3H36.2Z" fill="#fff" stroke="#000" stroke-width="1.6"/>
<path d="M31.6 633.3H36.2M33.7 621.2H36.2M33.7 614.1H36.2M33.7 609.1H36.2M33.7 605.2H36.2M33.7 602.0H36.2M33.7 599.3H36.2M33.7 597.0H36.2M33.7 595.0H36.2M31.6 593.1H36.2M33.7 581.0H36.2M33.7 574.0H36.2M33.7 568.9H36.2M33.7 565.0H36.2M33.7 561.9H36.2M33.7 559.2H36.2M33.7 556.8H36.2M33.7 554.8H36.2M31.6 553.0H36.2M33.7 540.9H36.2M33.7 533.8H36.2M33.7 528.8H36.2M33.7 524.9H36.2M33.7 521.7H36.2M33.7 519.0H36.2M33.7 516.7H36.2M33.7 514.6H36.2M31.6 512.8H36.2M33.7 500.7H36.2M33.7 493.6H36.2M33.7 488.6H36.2M33.7 484.7H36.2M33.7 481.5H36.2M33.7 478.8H36.2M33.7 476.5H36.2M33.7 474.4H36.2M31.6 472.6H36.2M37.2 633.3V638.6M44.8 633.3V636.1M52.3 633.3V636.1M59.9 633.3V636.1M67.4 633.3V636.1M75.0 633.3V638.6M82.5 633.3V636.1M90.1 633.3V636.1M97.6 633.3V636.1M105.2 633.3V636.1M112.7 633.3V638.6M120.3 633.3V636.1M127.8 633.3V636.1M135.4 633.3V636.1M142.9 633.3V636.1M150.5 633.3V638.6M158.0 633.3V636.1M165.6 633.3V636.1M173.1 633.3V636.1M180.7 633.3V636.1M188.2 633.3V638.6M195.8 633.3V636.1M203.3 633.3V636.1M210.9 633.3V636.1M218.4 633.3V636.1M226.0 633.3V638.6" stroke="#000" stroke-width="1.3" fill="none"/>
<text x="37.5" y="649.2" font-size="10.3" text-anchor="middle" class="b">0</text>
<text x="75.3" y="649.2" font-size="10.3" text-anchor="middle" class="b">200</text>
<text x="113.0" y="649.2" font-size="10.3" text-anchor="middle" class="b">400</text>
<text x="150.8" y="649.2" font-size="10.3" text-anchor="middle" class="b">600</text>
<text x="188.5" y="649.2" font-size="10.3" text-anchor="middle" class="b">800</text>
<text x="226.3" y="649.2" font-size="10.3" text-anchor="middle" class="b">1000</text>
<text x="132.9" y="662.6" font-size="10.95" text-anchor="middle" class="b">Propidium Iodide</text>
<text transform="translate(27.9 640.9) rotate(-90)" font-size="10.8" class="b">10<tspan dy="-6.0" font-size="10">0</tspan></text>
<text transform="translate(27.9 600.7) rotate(-90)" font-size="10.8" class="b">10<tspan dy="-6.0" font-size="10">1</tspan></text>
<text transform="translate(27.9 560.6) rotate(-90)" font-size="10.8" class="b">10<tspan dy="-6.0" font-size="10">2</tspan></text>
<text transform="translate(27.9 520.4) rotate(-90)" font-size="10.8" class="b">10<tspan dy="-6.0" font-size="10">3</tspan></text>
<text transform="translate(27.9 481.5) rotate(-90)" font-size="10.8" class="b">10<tspan dy="-6.0" font-size="10">4</tspan></text>
<text transform="translate(13.4 552.6) rotate(-90)" font-size="11.3" text-anchor="middle" class="b">Rabbit-FITC</text>
<text x="42.8" y="500.4" font-size="26.5" font-weight="bold">C</text>
</g>
<path d="M126.85 521.5h1.3M142.85 521.5h1.3M161.85 522.5h1.3M98.85 524.5h1.3M163.85 525.5h1.3M147.85 527.5h1.3M147.85 529.5h1.3M159.85 529.5h1.3M125.85 530.5h1.3M87.85 531.5h1.3M101.85 531.5h2.3M120.85 531.5h1.3M92.85 532.5h1.3M145.85 532.5h1.3M96.85 533.5h1.3M98.85 533.5h1.3M147.85 533.5h1.3M171.85 533.5h1.3M219.85 533.5h1.3M98.85 534.5h1.3M101.85 534.5h1.3M108.85 534.5h1.3M119.85 534.5h1.3M95.85 535.5h1.3M97.85 535.5h1.3M101.85 535.5h1.3M105.85 535.5h1.3M122.85 535.5h1.3M139.85 535.5h1.3M100.85 536.5h2.3M103.85 536.5h1.3M105.85 536.5h1.3M108.85 536.5h1.3M125.85 536.5h1.3M84.85 537.5h1.3M92.85 537.5h1.3M96.85 537.5h1.3M98.85 537.5h6.3M105.85 537.5h3.3M110.85 537.5h2.3M95.85 538.5h1.3M97.85 538.5h2.3M101.85 538.5h1.3M103.85 538.5h1.3M105.85 538.5h4.3M110.85 538.5h1.3M133.85 538.5h2.3M96.85 539.5h1.3M98.85 539.5h1.3M100.85 539.5h7.3M108.85 539.5h1.3M110.85 539.5h1.3M117.85 539.5h1.3M139.85 539.5h1.3M146.85 539.5h1.3M94.85 540.5h3.3M98.85 540.5h3.3M102.85 540.5h5.3M109.85 540.5h2.3M112.85 540.5h1.3M138.85 540.5h1.3M178.85 540.5h1.3M92.85 541.5h1.3M94.85 541.5h2.3M97.85 541.5h12.3M110.85 541.5h3.3M116.85 541.5h1.3M92.85 542.5h1.3M94.85 542.5h19.3M114.85 542.5h1.3M116.85 542.5h1.3M118.85 542.5h1.3M132.85 542.5h1.3M138.85 542.5h1.3M91.85 543.5h2.3M94.85 543.5h3.3M98.85 543.5h13.3M114.85 543.5h1.3M117.85 543.5h1.3M46.85 544.5h1.3M92.85 544.5h3.3M96.85 544.5h19.3M117.85 544.5h1.3M131.85 544.5h1.3M142.85 544.5h1.3M50.85 545.5h1.3M93.85 545.5h1.3M95.85 545.5h20.3M116.85 545.5h2.3M166.85 545.5h1.3M49.85 546.5h1.3M88.85 546.5h1.3M95.85 546.5h20.3M122.85 546.5h1.3M143.85 546.5h1.3M166.85 546.5h1.3M183.85 546.5h1.3M50.85 547.5h1.3M89.85 547.5h1.3M91.85 547.5h1.3M94.85 547.5h21.3M160.85 547.5h1.3M91.85 548.5h1.3M93.85 548.5h2.3M96.85 548.5h17.3M114.85 548.5h4.3M120.85 548.5h2.3M126.85 548.5h2.3M134.85 548.5h1.3M143.85 548.5h2.3M156.85 548.5h1.3M191.85 548.5h1.3M92.85 549.5h1.3M94.85 549.5h4.3M99.85 549.5h15.3M115.85 549.5h1.3M117.85 549.5h1.3M126.85 549.5h1.3M140.85 549.5h1.3M148.85 549.5h1.3M71.85 550.5h1.3M90.85 550.5h1.3M92.85 550.5h2.3M96.85 550.5h19.3M116.85 550.5h1.3M118.85 550.5h1.3M129.85 550.5h1.3M138.85 550.5h1.3M189.85 550.5h1.3M62.85 551.5h1.3M87.85 551.5h1.3M90.85 551.5h1.3M92.85 551.5h3.3M96.85 551.5h21.3M119.85 551.5h1.3M128.85 551.5h2.3M131.85 551.5h1.3M167.85 551.5h1.3M49.85 552.5h1.3M56.85 552.5h1.3M72.85 552.5h1.3M95.85 552.5h20.3M116.85 552.5h3.3M121.85 552.5h1.3M127.85 552.5h1.3M140.85 552.5h1.3M150.85 552.5h1.3M59.85 553.5h1.3M64.85 553.5h1.3M95.85 553.5h22.3M119.85 553.5h1.3M135.85 553.5h1.3M149.85 553.5h1.3M152.85 553.5h1.3M184.85 553.5h1.3M54.85 554.5h1.3M86.85 554.5h1.3M90.85 554.5h1.3M96.85 554.5h17.3M114.85 554.5h4.3M129.85 554.5h1.3M145.85 554.5h1.3M152.85 554.5h1.3M158.85 554.5h1.3M95.85 555.5h22.3M118.85 555.5h1.3M120.85 555.5h1.3M133.85 555.5h1.3M143.85 555.5h1.3M149.85 555.5h1.3M50.85 556.5h1.3M68.85 556.5h1.3M94.85 556.5h1.3M96.85 556.5h22.3M142.85 556.5h1.3M152.85 556.5h1.3M154.85 556.5h1.3M45.85 557.5h1.3M91.85 557.5h1.3M93.85 557.5h1.3M95.85 557.5h1.3M97.85 557.5h19.3M117.85 557.5h1.3M119.85 557.5h2.3M127.85 557.5h1.3M135.85 557.5h1.3M140.85 557.5h1.3M93.85 558.5h4.3M98.85 558.5h16.3M115.85 558.5h4.3M120.85 558.5h1.3M144.85 558.5h2.3M151.85 558.5h1.3M164.85 558.5h1.3M42.85 559.5h1.3M72.85 559.5h1.3M95.85 559.5h1.3M97.85 559.5h19.3M119.85 559.5h1.3M127.85 559.5h1.3M144.85 559.5h1.3M64.85 560.5h1.3M68.85 560.5h1.3M85.85 560.5h1.3M90.85 560.5h1.3M92.85 560.5h2.3M95.85 560.5h7.3M103.85 560.5h13.3M125.85 560.5h1.3M131.85 560.5h1.3M91.85 561.5h2.3M95.85 561.5h2.3M98.85 561.5h14.3M114.85 561.5h3.3M119.85 561.5h1.3M121.85 561.5h1.3M48.85 562.5h1.3M57.85 562.5h1.3M71.85 562.5h1.3M86.85 562.5h1.3M91.85 562.5h2.3M94.85 562.5h2.3M97.85 562.5h4.3M102.85 562.5h4.3M107.85 562.5h8.3M116.85 562.5h1.3M119.85 562.5h1.3M121.85 562.5h1.3M124.85 562.5h1.3M131.85 562.5h1.3M137.85 562.5h1.3M147.85 562.5h1.3M43.85 563.5h1.3M86.85 563.5h2.3M90.85 563.5h1.3M92.85 563.5h2.3M95.85 563.5h11.3M107.85 563.5h5.3M113.85 563.5h2.3M122.85 563.5h1.3M130.85 563.5h1.3M136.85 563.5h1.3M153.85 563.5h1.3M46.85 564.5h1.3M69.85 564.5h1.3M71.85 564.5h1.3M73.85 564.5h1.3M87.85 564.5h2.3M90.85 564.5h1.3M93.85 564.5h1.3M95.85 564.5h10.3M107.85 564.5h6.3M114.85 564.5h2.3M117.85 564.5h2.3M142.85 564.5h2.3M147.85 564.5h1.3M46.85 565.5h1.3M67.85 565.5h2.3M78.85 565.5h1.3M83.85 565.5h1.3M86.85 565.5h1.3M89.85 565.5h1.3M92.85 565.5h3.3M97.85 565.5h3.3M101.85 565.5h5.3M107.85 565.5h5.3M113.85 565.5h2.3M119.85 565.5h2.3M123.85 565.5h1.3M125.85 565.5h1.3M130.85 565.5h1.3M132.85 565.5h1.3M138.85 565.5h1.3M144.85 565.5h1.3M152.85 565.5h1.3M166.85 565.5h1.3M55.85 566.5h1.3M65.85 566.5h1.3M69.85 566.5h1.3M73.85 566.5h1.3M78.85 566.5h1.3M81.85 566.5h1.3M89.85 566.5h1.3M92.85 566.5h1.3M97.85 566.5h8.3M106.85 566.5h9.3M120.85 566.5h1.3M124.85 566.5h1.3M128.85 566.5h1.3M138.85 566.5h1.3M144.85 566.5h1.3M149.85 566.5h1.3M50.85 567.5h1.3M55.85 567.5h1.3M67.85 567.5h1.3M73.85 567.5h1.3M89.85 567.5h1.3M91.85 567.5h5.3M97.85 567.5h11.3M111.85 567.5h1.3M113.85 567.5h1.3M121.85 567.5h2.3M124.85 567.5h1.3M129.85 567.5h1.3M131.85 567.5h1.3M138.85 567.5h1.3M147.85 567.5h1.3M64.85 568.5h1.3M73.85 568.5h1.3M90.85 568.5h14.3M105.85 568.5h7.3M120.85 568.5h1.3M128.85 568.5h1.3M143.85 568.5h1.3M157.85 568.5h1.3M164.85 568.5h1.3M40.85 569.5h2.3M56.85 569.5h1.3M67.85 569.5h2.3M70.85 569.5h1.3M78.85 569.5h1.3M86.85 569.5h1.3M88.85 569.5h1.3M90.85 569.5h1.3M92.85 569.5h2.3M95.85 569.5h5.3M101.85 569.5h9.3M111.85 569.5h5.3M117.85 569.5h1.3M120.85 569.5h1.3M127.85 569.5h1.3M136.85 569.5h1.3M51.85 570.5h1.3M59.85 570.5h1.3M61.85 570.5h2.3M70.85 570.5h1.3M80.85 570.5h1.3M83.85 570.5h1.3M86.85 570.5h1.3M89.85 570.5h2.3M92.85 570.5h14.3M107.85 570.5h2.3M110.85 570.5h3.3M114.85 570.5h2.3M117.85 570.5h1.3M120.85 570.5h1.3M128.85 570.5h3.3M133.85 570.5h1.3M143.85 570.5h1.3M149.85 570.5h1.3M63.85 571.5h1.3M65.85 571.5h2.3M80.85 571.5h2.3M85.85 571.5h1.3M88.85 571.5h21.3M111.85 571.5h4.3M124.85 571.5h1.3M126.85 571.5h1.3M61.85 572.5h1.3M65.85 572.5h1.3M67.85 572.5h1.3M72.85 572.5h1.3M78.85 572.5h1.3M85.85 572.5h1.3M87.85 572.5h1.3M89.85 572.5h14.3M104.85 572.5h7.3M112.85 572.5h3.3M118.85 572.5h2.3M121.85 572.5h1.3M139.85 572.5h1.3M66.85 573.5h1.3M74.85 573.5h1.3M81.85 573.5h3.3M85.85 573.5h1.3M88.85 573.5h1.3M90.85 573.5h1.3M92.85 573.5h21.3M114.85 573.5h2.3M122.85 573.5h1.3M146.85 573.5h1.3M37.85 574.5h1.3M46.85 574.5h1.3M52.85 574.5h1.3M75.85 574.5h2.3M81.85 574.5h3.3M85.85 574.5h1.3M87.85 574.5h1.3M89.85 574.5h19.3M109.85 574.5h6.3M120.85 574.5h1.3M123.85 574.5h1.3M139.85 574.5h1.3M145.85 574.5h1.3M58.85 575.5h1.3M62.85 575.5h1.3M67.85 575.5h1.3M69.85 575.5h1.3M75.85 575.5h1.3M78.85 575.5h1.3M80.85 575.5h1.3M82.85 575.5h1.3M85.85 575.5h22.3M108.85 575.5h8.3M130.85 575.5h1.3M135.85 575.5h1.3M143.85 575.5h1.3M145.85 575.5h1.3M57.85 576.5h2.3M62.85 576.5h1.3M78.85 576.5h1.3M80.85 576.5h2.3M84.85 576.5h3.3M88.85 576.5h24.3M120.85 576.5h2.3M134.85 576.5h1.3M140.85 576.5h1.3M148.85 576.5h1.3M153.85 576.5h1.3M66.85 577.5h4.3M72.85 577.5h1.3M78.85 577.5h1.3M84.85 577.5h1.3M86.85 577.5h1.3M89.85 577.5h25.3M116.85 577.5h1.3M118.85 577.5h1.3M125.85 577.5h1.3M130.85 577.5h1.3M143.85 577.5h1.3M62.85 578.5h1.3M66.85 578.5h2.3M72.85 578.5h1.3M75.85 578.5h1.3M81.85 578.5h1.3M85.85 578.5h3.3M89.85 578.5h20.3M110.85 578.5h5.3M116.85 578.5h1.3M120.85 578.5h2.3M127.85 578.5h1.3M131.85 578.5h1.3M147.85 578.5h1.3M46.85 579.5h1.3M50.85 579.5h2.3M62.85 579.5h2.3M65.85 579.5h1.3M71.85 579.5h2.3M76.85 579.5h3.3M80.85 579.5h1.3M82.85 579.5h2.3M86.85 579.5h1.3M89.85 579.5h24.3M114.85 579.5h2.3M142.85 579.5h1.3M45.85 580.5h1.3M62.85 580.5h1.3M65.85 580.5h1.3M67.85 580.5h2.3M70.85 580.5h3.3M74.85 580.5h1.3M76.85 580.5h3.3M80.85 580.5h28.3M109.85 580.5h7.3M117.85 580.5h2.3M125.85 580.5h1.3M127.85 580.5h1.3M138.85 580.5h1.3M149.85 580.5h2.3M53.85 581.5h1.3M56.85 581.5h1.3M61.85 581.5h2.3M65.85 581.5h3.3M70.85 581.5h1.3M72.85 581.5h2.3M75.85 581.5h3.3M79.85 581.5h33.3M113.85 581.5h1.3M115.85 581.5h4.3M128.85 581.5h1.3M130.85 581.5h1.3M135.85 581.5h1.3M148.85 581.5h1.3M57.85 582.5h1.3M61.85 582.5h1.3M64.85 582.5h2.3M67.85 582.5h1.3M69.85 582.5h2.3M72.85 582.5h1.3M74.85 582.5h2.3M77.85 582.5h5.3M83.85 582.5h30.3M114.85 582.5h1.3M117.85 582.5h1.3M120.85 582.5h2.3M128.85 582.5h1.3M132.85 582.5h1.3M138.85 582.5h1.3M148.85 582.5h1.3M43.85 583.5h1.3M56.85 583.5h1.3M63.85 583.5h4.3M68.85 583.5h2.3M71.85 583.5h2.3M74.85 583.5h3.3M78.85 583.5h6.3M85.85 583.5h4.3M90.85 583.5h21.3M112.85 583.5h1.3M114.85 583.5h1.3M116.85 583.5h1.3M118.85 583.5h1.3M52.85 584.5h1.3M57.85 584.5h1.3M60.85 584.5h2.3M64.85 584.5h4.3M70.85 584.5h4.3M76.85 584.5h38.3M120.85 584.5h1.3M123.85 584.5h1.3M126.85 584.5h1.3M133.85 584.5h1.3M144.85 584.5h1.3M57.85 585.5h2.3M64.85 585.5h10.3M75.85 585.5h1.3M77.85 585.5h36.3M114.85 585.5h2.3M117.85 585.5h2.3M44.85 586.5h1.3M59.85 586.5h2.3M64.85 586.5h6.3M71.85 586.5h11.3M83.85 586.5h28.3M113.85 586.5h3.3M117.85 586.5h1.3M124.85 586.5h2.3M39.85 587.5h1.3M44.85 587.5h1.3M50.85 587.5h1.3M62.85 587.5h8.3M71.85 587.5h38.3M110.85 587.5h2.3M113.85 587.5h1.3M116.85 587.5h1.3M119.85 587.5h1.3M126.85 587.5h1.3M128.85 587.5h1.3M63.85 588.5h1.3M65.85 588.5h2.3M68.85 588.5h7.3M76.85 588.5h37.3M115.85 588.5h2.3M118.85 588.5h2.3M121.85 588.5h1.3M129.85 588.5h1.3M54.85 589.5h1.3M62.85 589.5h1.3M64.85 589.5h1.3M66.85 589.5h10.3M77.85 589.5h2.3M80.85 589.5h32.3M114.85 589.5h1.3M127.85 589.5h2.3M50.85 590.5h1.3M54.85 590.5h1.3M63.85 590.5h55.3M119.85 590.5h1.3M121.85 590.5h1.3M127.85 590.5h1.3M58.85 591.5h1.3M61.85 591.5h1.3M64.85 591.5h50.3M115.85 591.5h1.3M123.85 591.5h1.3M131.85 591.5h1.3M50.85 592.5h1.3M59.85 592.5h3.3M63.85 592.5h22.3M86.85 592.5h25.3M112.85 592.5h1.3M114.85 592.5h1.3M127.85 592.5h1.3M46.85 593.5h1.3M51.85 593.5h1.3M56.85 593.5h1.3M61.85 593.5h2.3M64.85 593.5h10.3M75.85 593.5h39.3M120.85 593.5h1.3M46.85 594.5h1.3M54.85 594.5h1.3M56.85 594.5h2.3M61.85 594.5h1.3M63.85 594.5h2.3M66.85 594.5h48.3M116.85 594.5h1.3M118.85 594.5h1.3M41.85 595.5h1.3M56.85 595.5h1.3M58.85 595.5h2.3M61.85 595.5h50.3M114.85 595.5h3.3M118.85 595.5h2.3M37.85 596.5h1.3M44.85 596.5h1.3M47.85 596.5h1.3M53.85 596.5h1.3M58.85 596.5h2.3M61.85 596.5h1.3M63.85 596.5h47.3M111.85 596.5h1.3M114.85 596.5h2.3M59.85 597.5h3.3M63.85 597.5h47.3M111.85 597.5h1.3M113.85 597.5h2.3M58.85 598.5h5.3M64.85 598.5h42.3M107.85 598.5h4.3M113.85 598.5h1.3M51.85 599.5h3.3M56.85 599.5h1.3M58.85 599.5h1.3M60.85 599.5h2.3M63.85 599.5h41.3M105.85 599.5h8.3M43.85 600.5h1.3M56.85 600.5h1.3M60.85 600.5h50.3M111.85 600.5h1.3M113.85 600.5h2.3M44.85 601.5h2.3M52.85 601.5h1.3M56.85 601.5h1.3M58.85 601.5h2.3M61.85 601.5h3.3M65.85 601.5h19.3M85.85 601.5h5.3M91.85 601.5h1.3M93.85 601.5h8.3M102.85 601.5h6.3M109.85 601.5h1.3M111.85 601.5h1.3M54.85 602.5h1.3M57.85 602.5h1.3M59.85 602.5h27.3M87.85 602.5h2.3M90.85 602.5h11.3M102.85 602.5h7.3M110.85 602.5h1.3M51.85 603.5h2.3M59.85 603.5h35.3M95.85 603.5h11.3M107.85 603.5h1.3M109.85 603.5h1.3M50.85 604.5h3.3M55.85 604.5h34.3M90.85 604.5h6.3M97.85 604.5h7.3M105.85 604.5h3.3M49.85 605.5h1.3M52.85 605.5h1.3M56.85 605.5h4.3M61.85 605.5h27.3M89.85 605.5h2.3M93.85 605.5h1.3M96.85 605.5h3.3M100.85 605.5h4.3M105.85 605.5h1.3M52.85 606.5h1.3M55.85 606.5h1.3M57.85 606.5h1.3M59.85 606.5h31.3M92.85 606.5h1.3M94.85 606.5h1.3M96.85 606.5h2.3M99.85 606.5h2.3M103.85 606.5h2.3M57.85 607.5h3.3M62.85 607.5h18.3M81.85 607.5h8.3M90.85 607.5h2.3M94.85 607.5h2.3M98.85 607.5h1.3M100.85 607.5h2.3M108.85 607.5h1.3M36.85 608.5h1.3M44.85 608.5h1.3M46.85 608.5h1.3M54.85 608.5h2.3M60.85 608.5h2.3M63.85 608.5h22.3M86.85 608.5h1.3M88.85 608.5h1.3M92.85 608.5h2.3M96.85 608.5h2.3M100.85 608.5h1.3M47.85 609.5h1.3M51.85 609.5h1.3M58.85 609.5h1.3M60.85 609.5h25.3M86.85 609.5h3.3M90.85 609.5h2.3M93.85 609.5h1.3M97.85 609.5h1.3M99.85 609.5h1.3M36.85 610.5h1.3M47.85 610.5h1.3M57.85 610.5h1.3M59.85 610.5h21.3M82.85 610.5h3.3M86.85 610.5h4.3M93.85 610.5h2.3M97.85 610.5h1.3M59.85 611.5h18.3M78.85 611.5h8.3M88.85 611.5h1.3M94.85 611.5h1.3M51.85 612.5h1.3M56.85 612.5h2.3M60.85 612.5h5.3M67.85 612.5h15.3M83.85 612.5h4.3M88.85 612.5h1.3M90.85 612.5h1.3M53.85 613.5h1.3M56.85 613.5h2.3M59.85 613.5h3.3M63.85 613.5h17.3M81.85 613.5h4.3M90.85 613.5h1.3M53.85 614.5h1.3M55.85 614.5h1.3M60.85 614.5h17.3M78.85 614.5h6.3M85.85 614.5h1.3M61.85 615.5h12.3M74.85 615.5h2.3M77.85 615.5h7.3M85.85 615.5h1.3M44.85 616.5h1.3M51.85 616.5h1.3M59.85 616.5h1.3M61.85 616.5h1.3M63.85 616.5h1.3M65.85 616.5h1.3M67.85 616.5h14.3M82.85 616.5h2.3M41.85 617.5h1.3M55.85 617.5h1.3M59.85 617.5h5.3M65.85 617.5h14.3M80.85 617.5h2.3M41.85 618.5h1.3M59.85 618.5h3.3M65.85 618.5h2.3M68.85 618.5h11.3M80.85 618.5h2.3M52.85 619.5h1.3M56.85 619.5h1.3M62.85 619.5h2.3M65.85 619.5h8.3M75.85 619.5h4.3M80.85 619.5h1.3M59.85 620.5h1.3M62.85 620.5h1.3M64.85 620.5h1.3M68.85 620.5h3.3M72.85 620.5h3.3M76.85 620.5h1.3M50.85 621.5h1.3M55.85 621.5h1.3M59.85 621.5h5.3M65.85 621.5h1.3M67.85 621.5h6.3M75.85 621.5h1.3M59.85 622.5h1.3M65.85 622.5h2.3M72.85 622.5h1.3M63.85 623.5h1.3M65.85 623.5h5.3M71.85 623.5h2.3M58.85 624.5h1.3M63.85 624.5h1.3M69.85 624.5h3.3M43.85 625.5h1.3M57.85 625.5h1.3M66.85 625.5h1.3M68.85 625.5h2.3M73.85 625.5h1.3M53.85 626.5h1.3M55.85 626.5h1.3M64.85 626.5h1.3M48.85 627.5h1.3M56.85 627.5h1.3M65.85 627.5h1.3M56.85 628.5h2.3M61.85 628.5h2.3M61.85 629.5h1.3M50.85 630.5h1.3" stroke="#000" stroke-width="1.3" fill="none"/>
<ellipse cx="69.0" cy="570.0" rx="11.0" ry="17.0" transform="rotate(5 69.0 570.0)" fill="none" stroke="#000" stroke-width="1.7"/>
<ellipse cx="102.7" cy="548.3" rx="17.3" ry="17.8" transform="rotate(20 102.7 548.3)" fill="none" stroke="#000" stroke-width="1.7"/>
<text x="42.5" y="548.7" font-size="13.5" textLength="37.5" lengthAdjust="spacingAndGlyphs">0.46%</text>
<text x="92.0" y="523.0" font-size="13.5" textLength="38.0" lengthAdjust="spacingAndGlyphs">13.5%</text>
</g>
<g id="scatter-D">
<g transform="rotate(-0.32 36.0 787.8)">
<path d="M36.0 706.9H229.8V868.7H36.0Z" fill="#fff" stroke="#000" stroke-width="1.6"/>
<path d="M31.4 868.7H36.0M33.5 856.5H36.0M33.5 849.4H36.0M33.5 844.3H36.0M33.5 840.4H36.0M33.5 837.2H36.0M33.5 834.5H36.0M33.5 832.2H36.0M33.5 830.1H36.0M31.4 828.2H36.0M33.5 816.1H36.0M33.5 809.0H36.0M33.5 803.9H36.0M33.5 800.0H36.0M33.5 796.8H36.0M33.5 794.1H36.0M33.5 791.7H36.0M33.5 789.7H36.0M31.4 787.8H36.0M33.5 775.6H36.0M33.5 768.5H36.0M33.5 763.4H36.0M33.5 759.5H36.0M33.5 756.3H36.0M33.5 753.6H36.0M33.5 751.3H36.0M33.5 749.2H36.0M31.4 747.4H36.0M33.5 735.2H36.0M33.5 728.1H36.0M33.5 723.0H36.0M33.5 719.1H36.0M33.5 715.9H36.0M33.5 713.2H36.0M33.5 710.8H36.0M33.5 708.8H36.0M31.4 706.9H36.0M36.9 868.7V874.0M44.4 868.7V871.5M51.9 868.7V871.5M59.4 868.7V871.5M66.9 868.7V871.5M74.4 868.7V874.0M81.9 868.7V871.5M89.5 868.7V871.5M97.0 868.7V871.5M104.5 868.7V871.5M112.0 868.7V874.0M119.5 868.7V871.5M127.0 868.7V871.5M134.5 868.7V871.5M142.0 868.7V871.5M149.5 868.7V874.0M157.0 868.7V871.5M164.5 868.7V871.5M172.0 868.7V871.5M179.6 868.7V871.5M187.1 868.7V874.0M194.6 868.7V871.5M202.1 868.7V871.5M209.6 868.7V871.5M217.1 868.7V871.5M224.6 868.7V874.0" stroke="#000" stroke-width="1.3" fill="none"/>
<text x="37.2" y="884.4" font-size="10.3" text-anchor="middle" class="b">0</text>
<text x="74.7" y="884.4" font-size="10.3" text-anchor="middle" class="b">200</text>
<text x="112.3" y="884.4" font-size="10.3" text-anchor="middle" class="b">400</text>
<text x="149.8" y="884.4" font-size="10.3" text-anchor="middle" class="b">600</text>
<text x="187.4" y="884.4" font-size="10.3" text-anchor="middle" class="b">800</text>
<text x="224.9" y="884.4" font-size="10.3" text-anchor="middle" class="b">1000</text>
<text x="132.1" y="898.2" font-size="10.95" text-anchor="middle" class="b">Propidium Iodide</text>
<text transform="translate(27.7 876.3) rotate(-90)" font-size="10.8" class="b">10<tspan dy="-6.0" font-size="10">0</tspan></text>
<text transform="translate(27.7 835.9) rotate(-90)" font-size="10.8" class="b">10<tspan dy="-6.0" font-size="10">1</tspan></text>
<text transform="translate(27.7 795.4) rotate(-90)" font-size="10.8" class="b">10<tspan dy="-6.0" font-size="10">2</tspan></text>
<text transform="translate(27.7 755.0) rotate(-90)" font-size="10.8" class="b">10<tspan dy="-6.0" font-size="10">3</tspan></text>
<text transform="translate(27.7 715.8) rotate(-90)" font-size="10.8" class="b">10<tspan dy="-6.0" font-size="10">4</tspan></text>
<text transform="translate(13.2 787.4) rotate(-90)" font-size="11.3" text-anchor="middle" class="b">Rabbit-FITC</text>
<text x="44.0" y="736.2" font-size="26.5" font-weight="bold">D</text>
</g>
<path d="M107.85 775.5h1.3M100.85 776.5h1.3M101.85 778.5h1.3M106.85 778.5h1.3M96.85 780.5h1.3M99.85 780.5h1.3M101.85 780.5h1.3M98.85 781.5h1.3M95.85 782.5h1.3M97.85 782.5h3.3M93.85 783.5h2.3M97.85 783.5h1.3M102.85 783.5h1.3M143.85 788.5h1.3M85.85 791.5h1.3M122.85 792.5h1.3M144.85 793.5h1.3M157.85 793.5h1.3M160.85 793.5h1.3M145.85 794.5h1.3M60.85 795.5h1.3M72.85 796.5h1.3M86.85 796.5h1.3M146.85 796.5h1.3M139.85 798.5h1.3M64.85 799.5h1.3M74.85 800.5h1.3M93.85 800.5h1.3M97.85 800.5h1.3M67.85 801.5h1.3M91.85 801.5h1.3M122.85 801.5h1.3M47.85 802.5h1.3M81.85 802.5h1.3M118.85 802.5h1.3M62.85 803.5h1.3M67.85 803.5h1.3M69.85 803.5h1.3M72.85 803.5h1.3M74.85 803.5h1.3M91.85 803.5h1.3M94.85 803.5h1.3M100.85 803.5h2.3M113.85 803.5h1.3M63.85 804.5h1.3M70.85 804.5h2.3M73.85 804.5h1.3M76.85 804.5h1.3M80.85 804.5h1.3M88.85 804.5h1.3M117.85 804.5h1.3M121.85 804.5h1.3M144.85 804.5h1.3M66.85 805.5h1.3M68.85 805.5h2.3M71.85 805.5h1.3M73.85 805.5h3.3M80.85 805.5h1.3M89.85 805.5h1.3M100.85 805.5h1.3M104.85 805.5h1.3M119.85 805.5h1.3M127.85 805.5h1.3M129.85 805.5h1.3M150.85 805.5h1.3M54.85 806.5h1.3M60.85 806.5h1.3M72.85 806.5h1.3M76.85 806.5h1.3M83.85 806.5h1.3M86.85 806.5h1.3M95.85 806.5h1.3M69.85 807.5h1.3M71.85 807.5h1.3M74.85 807.5h1.3M79.85 807.5h1.3M96.85 807.5h2.3M117.85 807.5h1.3M119.85 807.5h1.3M140.85 807.5h1.3M68.85 808.5h1.3M72.85 808.5h2.3M75.85 808.5h3.3M85.85 808.5h1.3M92.85 808.5h2.3M99.85 808.5h1.3M107.85 808.5h1.3M113.85 808.5h1.3M115.85 808.5h1.3M118.85 808.5h1.3M63.85 809.5h1.3M68.85 809.5h2.3M72.85 809.5h1.3M79.85 809.5h5.3M88.85 809.5h3.3M93.85 809.5h1.3M95.85 809.5h1.3M111.85 809.5h1.3M123.85 809.5h1.3M138.85 809.5h1.3M142.85 809.5h1.3M56.85 810.5h1.3M63.85 810.5h1.3M65.85 810.5h1.3M69.85 810.5h6.3M77.85 810.5h4.3M87.85 810.5h1.3M89.85 810.5h1.3M91.85 810.5h1.3M93.85 810.5h1.3M95.85 810.5h1.3M100.85 810.5h2.3M106.85 810.5h1.3M121.85 810.5h1.3M62.85 811.5h1.3M65.85 811.5h1.3M67.85 811.5h2.3M70.85 811.5h2.3M73.85 811.5h1.3M79.85 811.5h1.3M86.85 811.5h1.3M88.85 811.5h1.3M91.85 811.5h1.3M98.85 811.5h1.3M100.85 811.5h1.3M103.85 811.5h1.3M105.85 811.5h1.3M110.85 811.5h1.3M134.85 811.5h1.3M45.85 812.5h1.3M62.85 812.5h1.3M64.85 812.5h3.3M68.85 812.5h2.3M71.85 812.5h1.3M73.85 812.5h3.3M77.85 812.5h1.3M81.85 812.5h1.3M84.85 812.5h4.3M90.85 812.5h1.3M93.85 812.5h2.3M96.85 812.5h1.3M100.85 812.5h1.3M105.85 812.5h1.3M111.85 812.5h1.3M63.85 813.5h3.3M67.85 813.5h3.3M71.85 813.5h6.3M79.85 813.5h1.3M81.85 813.5h1.3M84.85 813.5h1.3M86.85 813.5h1.3M91.85 813.5h1.3M94.85 813.5h1.3M98.85 813.5h1.3M100.85 813.5h1.3M103.85 813.5h5.3M111.85 813.5h3.3M116.85 813.5h1.3M121.85 813.5h1.3M62.85 814.5h11.3M74.85 814.5h1.3M76.85 814.5h3.3M81.85 814.5h1.3M83.85 814.5h5.3M89.85 814.5h6.3M99.85 814.5h1.3M102.85 814.5h4.3M109.85 814.5h2.3M112.85 814.5h2.3M116.85 814.5h1.3M120.85 814.5h1.3M61.85 815.5h14.3M76.85 815.5h3.3M80.85 815.5h1.3M83.85 815.5h10.3M94.85 815.5h4.3M103.85 815.5h2.3M106.85 815.5h2.3M111.85 815.5h2.3M114.85 815.5h1.3M116.85 815.5h4.3M63.85 816.5h8.3M72.85 816.5h6.3M79.85 816.5h1.3M81.85 816.5h4.3M87.85 816.5h4.3M95.85 816.5h14.3M111.85 816.5h1.3M114.85 816.5h1.3M117.85 816.5h1.3M125.85 816.5h1.3M127.85 816.5h1.3M130.85 816.5h1.3M54.85 817.5h1.3M61.85 817.5h8.3M70.85 817.5h1.3M72.85 817.5h6.3M80.85 817.5h3.3M84.85 817.5h9.3M96.85 817.5h8.3M105.85 817.5h1.3M107.85 817.5h3.3M113.85 817.5h1.3M115.85 817.5h1.3M117.85 817.5h1.3M119.85 817.5h1.3M121.85 817.5h1.3M63.85 818.5h1.3M65.85 818.5h1.3M67.85 818.5h13.3M81.85 818.5h2.3M84.85 818.5h8.3M94.85 818.5h3.3M99.85 818.5h6.3M106.85 818.5h1.3M108.85 818.5h2.3M111.85 818.5h3.3M115.85 818.5h3.3M119.85 818.5h1.3M130.85 818.5h1.3M55.85 819.5h1.3M61.85 819.5h1.3M63.85 819.5h24.3M88.85 819.5h5.3M95.85 819.5h2.3M98.85 819.5h11.3M110.85 819.5h2.3M113.85 819.5h1.3M115.85 819.5h2.3M118.85 819.5h1.3M61.85 820.5h25.3M87.85 820.5h31.3M120.85 820.5h2.3M46.85 821.5h1.3M56.85 821.5h1.3M62.85 821.5h19.3M83.85 821.5h7.3M91.85 821.5h25.3M117.85 821.5h1.3M55.85 822.5h3.3M59.85 822.5h1.3M61.85 822.5h20.3M82.85 822.5h26.3M109.85 822.5h7.3M117.85 822.5h3.3M122.85 822.5h1.3M50.85 823.5h1.3M54.85 823.5h1.3M56.85 823.5h1.3M58.85 823.5h3.3M62.85 823.5h14.3M77.85 823.5h11.3M89.85 823.5h29.3M49.85 824.5h1.3M57.85 824.5h1.3M61.85 824.5h48.3M111.85 824.5h6.3M119.85 824.5h2.3M61.85 825.5h29.3M91.85 825.5h7.3M99.85 825.5h2.3M102.85 825.5h6.3M109.85 825.5h2.3M114.85 825.5h1.3M117.85 825.5h1.3M58.85 826.5h1.3M60.85 826.5h2.3M63.85 826.5h28.3M92.85 826.5h6.3M99.85 826.5h14.3M115.85 826.5h1.3M43.85 827.5h1.3M53.85 827.5h1.3M58.85 827.5h1.3M60.85 827.5h30.3M91.85 827.5h3.3M95.85 827.5h18.3M114.85 827.5h2.3M47.85 828.5h1.3M52.85 828.5h2.3M57.85 828.5h1.3M61.85 828.5h16.3M78.85 828.5h17.3M96.85 828.5h4.3M101.85 828.5h1.3M103.85 828.5h9.3M113.85 828.5h1.3M46.85 829.5h1.3M57.85 829.5h1.3M59.85 829.5h1.3M61.85 829.5h27.3M90.85 829.5h2.3M93.85 829.5h6.3M100.85 829.5h10.3M111.85 829.5h1.3M113.85 829.5h1.3M115.85 829.5h1.3M49.85 830.5h1.3M51.85 830.5h1.3M53.85 830.5h7.3M61.85 830.5h13.3M75.85 830.5h25.3M102.85 830.5h9.3M114.85 830.5h1.3M53.85 831.5h2.3M57.85 831.5h29.3M87.85 831.5h14.3M103.85 831.5h1.3M105.85 831.5h1.3M108.85 831.5h2.3M112.85 831.5h1.3M46.85 832.5h1.3M50.85 832.5h1.3M54.85 832.5h1.3M60.85 832.5h25.3M86.85 832.5h2.3M91.85 832.5h7.3M99.85 832.5h1.3M101.85 832.5h1.3M103.85 832.5h1.3M105.85 832.5h2.3M110.85 832.5h1.3M50.85 833.5h1.3M53.85 833.5h1.3M55.85 833.5h1.3M57.85 833.5h2.3M62.85 833.5h24.3M87.85 833.5h13.3M102.85 833.5h1.3M106.85 833.5h3.3M48.85 834.5h1.3M50.85 834.5h1.3M52.85 834.5h1.3M55.85 834.5h1.3M61.85 834.5h30.3M92.85 834.5h5.3M98.85 834.5h1.3M100.85 834.5h2.3M106.85 834.5h1.3M56.85 835.5h3.3M60.85 835.5h19.3M80.85 835.5h5.3M86.85 835.5h3.3M90.85 835.5h5.3M96.85 835.5h2.3M100.85 835.5h2.3M104.85 835.5h1.3M48.85 836.5h2.3M52.85 836.5h1.3M56.85 836.5h1.3M59.85 836.5h33.3M93.85 836.5h1.3M95.85 836.5h2.3M102.85 836.5h1.3M45.85 837.5h1.3M49.85 837.5h1.3M52.85 837.5h3.3M59.85 837.5h22.3M82.85 837.5h3.3M86.85 837.5h2.3M89.85 837.5h6.3M97.85 837.5h2.3M41.85 838.5h1.3M51.85 838.5h1.3M54.85 838.5h4.3M59.85 838.5h30.3M91.85 838.5h4.3M96.85 838.5h1.3M52.85 839.5h1.3M55.85 839.5h1.3M57.85 839.5h1.3M59.85 839.5h21.3M81.85 839.5h6.3M88.85 839.5h1.3M90.85 839.5h1.3M94.85 839.5h1.3M99.85 839.5h1.3M45.85 840.5h1.3M48.85 840.5h1.3M52.85 840.5h1.3M55.85 840.5h2.3M60.85 840.5h25.3M87.85 840.5h3.3M91.85 840.5h1.3M50.85 841.5h1.3M54.85 841.5h23.3M78.85 841.5h2.3M81.85 841.5h6.3M89.85 841.5h1.3M91.85 841.5h1.3M96.85 841.5h1.3M45.85 842.5h2.3M48.85 842.5h1.3M50.85 842.5h1.3M52.85 842.5h1.3M56.85 842.5h3.3M60.85 842.5h1.3M62.85 842.5h19.3M82.85 842.5h1.3M84.85 842.5h6.3M44.85 843.5h1.3M53.85 843.5h1.3M56.85 843.5h23.3M80.85 843.5h4.3M85.85 843.5h1.3M88.85 843.5h2.3M91.85 843.5h1.3M47.85 844.5h1.3M51.85 844.5h2.3M54.85 844.5h4.3M59.85 844.5h2.3M63.85 844.5h18.3M82.85 844.5h2.3M86.85 844.5h2.3M93.85 844.5h1.3M48.85 845.5h1.3M50.85 845.5h1.3M52.85 845.5h3.3M56.85 845.5h2.3M61.85 845.5h17.3M79.85 845.5h2.3M83.85 845.5h1.3M88.85 845.5h1.3M47.85 846.5h2.3M50.85 846.5h3.3M54.85 846.5h1.3M56.85 846.5h1.3M58.85 846.5h3.3M62.85 846.5h17.3M80.85 846.5h1.3M82.85 846.5h1.3M86.85 846.5h1.3M88.85 846.5h1.3M49.85 847.5h1.3M53.85 847.5h1.3M57.85 847.5h1.3M60.85 847.5h2.3M63.85 847.5h16.3M80.85 847.5h1.3M82.85 847.5h2.3M44.85 848.5h1.3M50.85 848.5h2.3M54.85 848.5h2.3M57.85 848.5h21.3M81.85 848.5h1.3M84.85 848.5h1.3M86.85 848.5h1.3M44.85 849.5h1.3M48.85 849.5h1.3M51.85 849.5h5.3M59.85 849.5h17.3M79.85 849.5h3.3M46.85 850.5h1.3M51.85 850.5h1.3M58.85 850.5h3.3M62.85 850.5h12.3M75.85 850.5h1.3M78.85 850.5h1.3M54.85 851.5h1.3M56.85 851.5h1.3M58.85 851.5h3.3M63.85 851.5h16.3M49.85 852.5h1.3M53.85 852.5h2.3M57.85 852.5h1.3M59.85 852.5h2.3M62.85 852.5h12.3M76.85 852.5h2.3M80.85 852.5h1.3M43.85 853.5h1.3M48.85 853.5h1.3M51.85 853.5h2.3M54.85 853.5h3.3M58.85 853.5h1.3M61.85 853.5h17.3M79.85 853.5h2.3M42.85 854.5h2.3M45.85 854.5h1.3M55.85 854.5h3.3M61.85 854.5h15.3M39.85 855.5h1.3M49.85 855.5h1.3M52.85 855.5h1.3M54.85 855.5h2.3M57.85 855.5h2.3M62.85 855.5h14.3M47.85 856.5h2.3M57.85 856.5h2.3M60.85 856.5h2.3M63.85 856.5h13.3M43.85 857.5h1.3M49.85 857.5h1.3M53.85 857.5h3.3M58.85 857.5h1.3M61.85 857.5h12.3M45.85 858.5h1.3M51.85 858.5h2.3M55.85 858.5h1.3M57.85 858.5h3.3M62.85 858.5h1.3M64.85 858.5h8.3M47.85 859.5h1.3M50.85 859.5h1.3M53.85 859.5h1.3M56.85 859.5h2.3M60.85 859.5h2.3M63.85 859.5h2.3M66.85 859.5h6.3M45.85 860.5h1.3M47.85 860.5h1.3M50.85 860.5h3.3M58.85 860.5h1.3M62.85 860.5h2.3M66.85 860.5h4.3M49.85 861.5h1.3M53.85 861.5h2.3M57.85 861.5h1.3M61.85 861.5h1.3M63.85 861.5h1.3M65.85 861.5h3.3M52.85 862.5h2.3M55.85 862.5h1.3M61.85 862.5h1.3M64.85 862.5h2.3M47.85 863.5h1.3M50.85 863.5h1.3M52.85 863.5h1.3M58.85 863.5h1.3M60.85 863.5h1.3M63.85 863.5h2.3M52.85 864.5h3.3M58.85 864.5h1.3M60.85 864.5h1.3M62.85 864.5h1.3M49.85 865.5h1.3M53.85 865.5h1.3M68.85 866.5h1.3M55.85 867.5h1.3" stroke="#000" stroke-width="1.3" fill="none"/>
<ellipse cx="63.0" cy="794.7" rx="11.2" ry="18.1" transform="rotate(3 63.0 794.7)" fill="none" stroke="#000" stroke-width="1.7"/>
<ellipse cx="98.5" cy="779.5" rx="16.9" ry="18.3" transform="rotate(20 98.5 779.5)" fill="none" stroke="#000" stroke-width="1.7"/>
<text x="42.5" y="770.7" font-size="13.5" textLength="37.5" lengthAdjust="spacingAndGlyphs">0.08%</text>
<text x="83.0" y="754.5" font-size="13.5" textLength="37.5" lengthAdjust="spacingAndGlyphs">0.37%</text>
</g>
<g id="hist-A">
<g transform="rotate(-0.36 289.5 97.9)">
<path d="M289.5 22.2H511.5V173.7H289.5Z" fill="#fff" stroke="#000" stroke-width="1.35"/>
<path d="M284.5 172.5H289.5M286.9 166.5H289.5M286.9 160.5H289.5M286.9 154.5H289.5M286.9 148.5H289.5M284.5 142.4H289.5M286.9 136.4H289.5M286.9 130.4H289.5M286.9 124.4H289.5M286.9 118.4H289.5M284.5 112.4H289.5M286.9 106.4H289.5M286.9 100.4H289.5M286.9 94.3H289.5M286.9 88.3H289.5M284.5 82.3H289.5M286.9 76.3H289.5M286.9 70.3H289.5M286.9 64.3H289.5M286.9 58.3H289.5M284.5 52.3H289.5M286.9 46.2H289.5M286.9 40.2H289.5M286.9 34.2H289.5M286.9 28.2H289.5M284.5 22.2H289.5M291.2 173.7V178.7M299.8 173.7V176.3M308.3 173.7V176.3M316.9 173.7V176.3M325.4 173.7V176.3M334.0 173.7V178.7M342.5 173.7V176.3M351.1 173.7V176.3M359.6 173.7V176.3M368.2 173.7V176.3M376.8 173.7V178.7M385.3 173.7V176.3M393.9 173.7V176.3M402.4 173.7V176.3M411.0 173.7V176.3M419.5 173.7V178.7M428.1 173.7V176.3M436.7 173.7V176.3M445.2 173.7V176.3M453.8 173.7V176.3M462.3 173.7V178.7M470.9 173.7V176.3M479.4 173.7V176.3M488.0 173.7V176.3M496.5 173.7V176.3M505.1 173.7V178.7" stroke="#000" stroke-width="1.3" fill="none"/>
<text x="292.2" y="189.6" font-size="10" text-anchor="middle" class="b">0</text>
<text x="335.0" y="189.6" font-size="10" text-anchor="middle" class="b">200</text>
<text x="377.8" y="189.6" font-size="10" text-anchor="middle" class="b">400</text>
<text x="420.5" y="189.6" font-size="10" text-anchor="middle" class="b">600</text>
<text x="463.3" y="189.6" font-size="10" text-anchor="middle" class="b">800</text>
<text x="506.1" y="189.6" font-size="10" text-anchor="middle" class="b">1000</text>
<text x="400.0" y="202.2" font-size="10.1" text-anchor="middle" class="b">Propidium Iodide</text>
<text transform="translate(280.6 170.9) rotate(-90)" font-size="9.7" text-anchor="middle" class="b">0</text>
<text transform="translate(280.6 140.8) rotate(-90)" font-size="9.7" text-anchor="middle" class="b">30</text>
<text transform="translate(280.6 110.8) rotate(-90)" font-size="9.7" text-anchor="middle" class="b">60</text>
<text transform="translate(280.6 80.7) rotate(-90)" font-size="9.7" text-anchor="middle" class="b">90</text>
<text transform="translate(280.6 50.7) rotate(-90)" font-size="9.7" text-anchor="middle" class="b">120</text>
<text transform="translate(280.6 20.6) rotate(-90)" font-size="9.7" text-anchor="middle" class="b">150</text>
<text transform="translate(269.9 97.9) rotate(-90)" font-size="11.1" text-anchor="middle" class="b">Counts</text>
<path d="M291.20 173.10L291.20 169.69L292.06 169.69L292.06 162.61L292.91 162.61L292.91 155.36L293.77 155.36L293.77 147.59L294.62 147.59L294.62 147.82L295.48 147.82L295.48 143.61L296.33 143.61L296.33 146.51L297.19 146.51L297.19 145.13L298.04 145.13L298.04 143.01L298.90 143.01L298.90 143.63L299.76 143.63L299.76 139.57L300.61 139.57L300.61 143.79L301.47 143.79L301.47 146.46L302.32 146.46L302.32 144.74L303.18 144.74L303.18 146.88L304.03 146.88L304.03 151.37L304.89 151.37L304.89 153.44L305.75 153.44L305.75 156.32L306.60 156.32L306.60 156.09L307.46 156.09L307.46 157.69L308.31 157.69L308.31 158.07L309.17 158.07L309.17 156.84L310.02 156.84L310.02 163.28L310.88 163.28L310.88 159.99L311.73 159.99L311.73 160.37L312.59 160.37L312.59 156.70L313.45 156.70L313.45 162.76L314.30 162.76L314.30 156.45L315.16 156.45L315.16 159.99L316.01 159.99L316.01 158.92L316.87 158.92L316.87 159.58L317.72 159.58L317.72 158.92L318.58 158.92L318.58 159.22L319.43 159.22L319.43 160.26L320.29 160.26L320.29 160.94L321.15 160.94L321.15 159.88L322.00 159.88L322.00 159.25L322.86 159.25L322.86 156.24L323.71 156.24L323.71 154.43L324.57 154.43L324.57 149.30L325.42 149.30L325.42 144.71L326.28 144.71L326.28 139.73L327.14 139.73L327.14 128.24L327.99 128.24L327.99 119.14L328.85 119.14L328.85 116.27L329.70 116.27L329.70 102.24L330.56 102.24L330.56 93.26L331.41 93.26L331.41 87.38L332.27 87.38L332.27 87.82L333.12 87.82L333.12 91.14L333.98 91.14L333.98 81.77L334.84 81.77L334.84 80.11L335.69 80.11L335.69 89.35L336.55 89.35L336.55 93.70L337.40 93.70L337.40 105.25L338.26 105.25L338.26 103.34L339.11 103.34L339.11 109.93L339.97 109.93L339.97 117.65L340.82 117.65L340.82 123.19L341.68 123.19L341.68 130.71L342.54 130.71L342.54 128.37L343.39 128.37L343.39 129.42L344.25 129.42L344.25 130.04L345.10 130.04L345.10 135.55L345.96 135.55L345.96 135.82L346.81 135.82L346.81 140.73L347.67 140.73L347.67 131.66L348.53 131.66L348.53 141.20L349.38 141.20L349.38 138.06L350.24 138.06L350.24 141.54L351.09 141.54L351.09 140.24L351.95 140.24L351.95 142.67L352.80 142.67L352.80 139.65L353.66 139.65L353.66 140.71L354.51 140.71L354.51 141.60L355.37 141.60L355.37 144.40L356.23 144.40L356.23 142.83L357.08 142.83L357.08 140.08L357.94 140.08L357.94 146.33L358.79 146.33L358.79 149.15L359.65 149.15L359.65 144.69L360.50 144.69L360.50 147.59L361.36 147.59L361.36 143.23L362.21 143.23L362.21 144.70L363.07 144.70L363.07 133.09L363.93 133.09L363.93 141.12L364.78 141.12L364.78 140.72L365.64 140.72L365.64 142.25L366.49 142.25L366.49 143.86L367.35 143.86L367.35 143.02L368.20 143.02L368.20 144.42L369.06 144.42L369.06 144.40L369.92 144.40L369.92 148.24L370.77 148.24L370.77 147.55L371.63 147.55L371.63 152.86L372.48 152.86L372.48 153.99L373.34 153.99L373.34 155.09L374.19 155.09L374.19 158.56L375.05 158.56L375.05 160.34L375.90 160.34L375.90 161.50L376.76 161.50L376.76 162.75L377.62 162.75L377.62 162.72L378.47 162.72L378.47 162.34L379.33 162.34L379.33 163.11L380.18 163.11L380.18 165.25L381.04 165.25L381.04 167.56L381.89 167.56L381.89 166.99L382.75 166.99L382.75 167.35L383.60 167.35L383.60 164.27L384.46 164.27L384.46 165.69L385.32 165.69L385.32 164.71L386.17 164.71L386.17 165.76L387.03 165.76L387.03 167.37L387.88 167.37L387.88 168.73L388.74 168.73L388.74 167.73L389.59 167.73L389.59 167.39L390.45 167.39L390.45 167.58L391.31 167.58L391.31 166.28L392.16 166.28L392.16 169.43L393.02 169.43L393.02 168.05L393.87 168.05L393.87 169.06L394.73 169.06L394.73 168.50L395.58 168.50L395.58 169.48L396.44 169.48L396.44 169.06L397.29 169.06L397.29 169.45L398.15 169.45L398.15 170.13L399.01 170.13L399.01 170.25L399.86 170.25L399.86 169.53L400.72 169.53L400.72 170.49L401.57 170.49L401.57 170.73L402.43 170.73L402.43 171.23L403.28 171.23L403.28 170.73L404.14 170.73L404.14 168.69L404.99 168.69L404.99 170.55L405.85 170.55L405.85 170.98L406.71 170.98L406.71 170.65L407.56 170.65L407.56 170.53L408.42 170.53L408.42 170.60L409.27 170.60L409.27 170.43L410.13 170.43L410.13 171.78L410.98 171.78L410.98 170.76L411.84 170.76L411.84 169.71L412.70 169.71L412.70 169.29L413.55 169.29L413.55 171.02L414.41 171.02L414.41 171.27L415.26 171.27L415.26 171.81L416.12 171.81L416.12 172.22L416.97 172.22L416.97 170.62L417.83 170.62L417.83 171.17L418.68 171.17L418.68 171.48L419.54 171.48L419.54 170.10L420.40 170.10L420.40 170.79L421.25 170.79L421.25 170.86L422.11 170.86L422.11 171.00L422.96 171.00L422.96 170.89L423.82 170.89L423.82 171.26L424.67 171.26L424.67 170.97L425.53 170.97L425.53 172.03L426.38 172.03L426.38 170.36L427.24 170.36L427.24 171.02L428.10 171.02L428.10 170.00L428.95 170.00L428.95 171.93L429.81 171.93L429.81 171.24L430.66 171.24L430.66 170.87L431.52 170.87L431.52 170.54L432.37 170.54L432.37 171.84L433.23 171.84L433.23 169.96L434.09 169.96L434.09 170.88L434.94 170.88L434.94 172.23L435.80 172.23L435.80 171.21L436.65 171.21L436.65 170.32L437.51 170.32L437.51 170.95L438.36 170.95L438.36 171.53L439.22 171.53L439.22 170.53L440.07 170.53L440.07 171.53L440.93 171.53L440.93 170.04L441.79 170.04L441.79 170.24L442.64 170.24L442.64 170.62L443.50 170.62L443.50 169.77L444.35 169.77L444.35 171.28L445.21 171.28L445.21 171.29L446.06 171.29L446.06 171.00L446.92 171.00L446.92 171.35L447.77 171.35L447.77 170.95L448.63 170.95L448.63 171.13L449.49 171.13L449.49 172.50L450.34 172.50L450.34 170.83L451.20 170.83L451.20 171.17L452.05 171.17L452.05 171.44L452.91 171.44L452.91 170.53L453.76 170.53L453.76 171.24L454.62 171.24L454.62 171.91L455.48 171.91L455.48 171.42L456.33 171.42L456.33 171.02L457.19 171.02L457.19 171.95L458.04 171.95L458.04 171.15L458.90 171.15L458.90 169.95L459.75 169.95L459.75 172.16L460.61 172.16L460.61 171.33L461.46 171.33L461.46 171.24L462.32 171.24L462.32 171.07L463.18 171.07L463.18 171.65L464.03 171.65L464.03 172.25L464.89 172.25L464.89 170.35L465.74 170.35L465.74 171.15L466.60 171.15L466.60 171.06L467.45 171.06L467.45 171.32L468.31 171.32L468.31 171.38L469.16 171.38L469.16 171.58L470.02 171.58L470.02 172.50L470.88 172.50L470.88 170.96L471.73 170.96L471.73 171.86L472.59 171.86L472.59 170.71L473.44 170.71L473.44 170.76L474.30 170.76L474.30 171.00L475.15 171.00L475.15 171.43L476.01 171.43L476.01 171.01L476.87 171.01L476.87 170.74L477.72 170.74L477.72 172.33L478.58 172.33L478.58 172.01L479.43 172.01L479.43 170.95L480.29 170.95L480.29 170.39L481.14 170.39L481.14 171.81L482.00 171.81L482.00 172.14L482.85 172.14L482.85 171.59L483.71 171.59L483.71 171.37L484.57 171.37L484.57 170.74L485.42 170.74L485.42 171.44L486.28 171.44L486.28 172.27L487.13 172.27L487.13 171.81L487.99 171.81L487.99 172.38L488.84 172.38L488.84 171.87L489.70 171.87L489.70 170.86L490.55 170.86L490.55 170.72L491.41 170.72L491.41 171.47L492.27 171.47L492.27 172.42L493.12 172.42L493.12 171.33L493.98 171.33L493.98 171.30L494.83 171.30L494.83 171.49L495.69 171.49L495.69 171.31L496.54 171.31L496.54 171.37L497.40 171.37L497.40 171.93L498.26 171.93L498.26 172.35L499.11 172.35L499.11 171.99L499.97 171.99L499.97 171.22L500.82 171.22L500.82 171.48L501.68 171.48L501.68 171.48L502.53 171.48L502.53 171.66L503.39 171.66L503.39 171.85L504.24 171.85L504.24 172.18L505.10 172.18L505.10 172.19L505.96 172.19L505.96 171.30L506.81 171.30L506.81 171.09L507.67 171.09L507.67 171.84L508.52 171.84L508.52 171.40L509.38 171.40L509.38 167.09L510.23 167.09L510.23 173.10Z" fill="url(#hp)" stroke="#000" stroke-width="1.1" stroke-linejoin="round"/>
</g>
<text x="419.5" y="38.8" font-size="13.3">G0/1</text>
<text x="506.2" y="38.8" font-size="13.6" text-anchor="end">48.5 %</text>
<text x="419.5" y="54.6" font-size="13.3">S</text>
<text x="504.0" y="54.6" font-size="13.6" text-anchor="end">33.3 %</text>
<text x="419.5" y="70.8" font-size="13.3">G2/M</text>
<text x="506.2" y="70.8" font-size="13.6" text-anchor="end">18.1 %</text>
<text x="419.5" y="87.0" font-size="13.3">Debris</text>
<text x="505.2" y="87.0" font-size="13.6" text-anchor="end">20.1 %</text>
</g>
<g id="hist-B">
<g transform="rotate(-0.14 290.0 329.2)">
<path d="M290.0 255.4H510.0V403.1H290.0Z" fill="#fff" stroke="#000" stroke-width="1.35"/>
<path d="M285.0 401.9H290.0M287.4 396.0H290.0M287.4 390.2H290.0M287.4 384.3H290.0M287.4 378.5H290.0M285.0 372.6H290.0M287.4 366.7H290.0M287.4 360.9H290.0M287.4 355.0H290.0M287.4 349.2H290.0M285.0 343.3H290.0M287.4 337.4H290.0M287.4 331.6H290.0M287.4 325.7H290.0M287.4 319.9H290.0M285.0 314.0H290.0M287.4 308.1H290.0M287.4 302.3H290.0M287.4 296.4H290.0M287.4 290.6H290.0M285.0 284.7H290.0M287.4 278.8H290.0M287.4 273.0H290.0M287.4 267.1H290.0M287.4 261.3H290.0M285.0 255.4H290.0M291.5 403.1V408.1M300.0 403.1V405.7M308.5 403.1V405.7M317.0 403.1V405.7M325.5 403.1V405.7M334.0 403.1V408.1M342.5 403.1V405.7M351.0 403.1V405.7M359.5 403.1V405.7M368.0 403.1V405.7M376.5 403.1V408.1M385.0 403.1V405.7M393.5 403.1V405.7M402.0 403.1V405.7M410.5 403.1V405.7M419.0 403.1V408.1M427.5 403.1V405.7M436.0 403.1V405.7M444.5 403.1V405.7M453.0 403.1V405.7M461.5 403.1V408.1M470.0 403.1V405.7M478.5 403.1V405.7M487.0 403.1V405.7M495.5 403.1V405.7M504.0 403.1V408.1" stroke="#000" stroke-width="1.3" fill="none"/>
<text x="292.5" y="418.9" font-size="10" text-anchor="middle" class="b">0</text>
<text x="335.0" y="418.9" font-size="10" text-anchor="middle" class="b">200</text>
<text x="377.5" y="418.9" font-size="10" text-anchor="middle" class="b">400</text>
<text x="420.0" y="418.9" font-size="10" text-anchor="middle" class="b">600</text>
<text x="462.5" y="418.9" font-size="10" text-anchor="middle" class="b">800</text>
<text x="505.0" y="418.9" font-size="10" text-anchor="middle" class="b">1000</text>
<text x="399.5" y="431.6" font-size="10.1" text-anchor="middle" class="b">Propidium Iodide</text>
<text transform="translate(281.1 400.3) rotate(-90)" font-size="9.7" text-anchor="middle" class="b">0</text>
<text transform="translate(281.1 371.0) rotate(-90)" font-size="9.7" text-anchor="middle" class="b">30</text>
<text transform="translate(281.1 341.7) rotate(-90)" font-size="9.7" text-anchor="middle" class="b">60</text>
<text transform="translate(281.1 312.4) rotate(-90)" font-size="9.7" text-anchor="middle" class="b">90</text>
<text transform="translate(281.1 283.1) rotate(-90)" font-size="9.7" text-anchor="middle" class="b">120</text>
<text transform="translate(281.1 253.8) rotate(-90)" font-size="9.7" text-anchor="middle" class="b">150</text>
<text transform="translate(270.4 329.2) rotate(-90)" font-size="11.1" text-anchor="middle" class="b">Counts</text>
<path d="M291.50 402.50L291.50 397.96L292.35 397.96L292.35 391.88L293.20 391.88L293.20 386.76L294.05 386.76L294.05 385.02L294.90 385.02L294.90 385.08L295.75 385.08L295.75 375.94L296.60 375.94L296.60 376.80L297.45 376.80L297.45 375.77L298.30 375.77L298.30 378.72L299.15 378.72L299.15 384.52L300.00 384.52L300.00 386.14L300.85 386.14L300.85 382.24L301.70 382.24L301.70 383.55L302.55 383.55L302.55 382.31L303.40 382.31L303.40 386.08L304.25 386.08L304.25 386.35L305.10 386.35L305.10 389.93L305.95 389.93L305.95 389.10L306.80 389.10L306.80 389.26L307.65 389.26L307.65 391.77L308.50 391.77L308.50 393.99L309.35 393.99L309.35 393.51L310.20 393.51L310.20 391.79L311.05 391.79L311.05 392.74L311.90 392.74L311.90 392.52L312.75 392.52L312.75 391.51L313.60 391.51L313.60 392.28L314.45 392.28L314.45 391.46L315.30 391.46L315.30 390.47L316.15 390.47L316.15 391.31L317.00 391.31L317.00 391.02L317.85 391.02L317.85 391.28L318.70 391.28L318.70 392.29L319.55 392.29L319.55 390.03L320.40 390.03L320.40 386.01L321.25 386.01L321.25 382.65L322.10 382.65L322.10 367.96L322.95 367.96L322.95 354.19L323.80 354.19L323.80 339.51L324.65 339.51L324.65 322.53L325.50 322.53L325.50 309.42L326.35 309.42L326.35 286.86L327.20 286.86L327.20 279.99L328.05 279.99L328.05 263.93L328.90 263.93L328.90 261.96L329.75 261.96L329.75 260.85L330.60 260.85L330.60 261.13L331.45 261.13L331.45 268.75L332.30 268.75L332.30 290.35L333.15 290.35L333.15 298.92L334.00 298.92L334.00 315.91L334.85 315.91L334.85 329.07L335.70 329.07L335.70 339.44L336.55 339.44L336.55 349.15L337.40 349.15L337.40 352.95L338.25 352.95L338.25 356.47L339.10 356.47L339.10 373.06L339.95 373.06L339.95 372.55L340.80 372.55L340.80 370.79L341.65 370.79L341.65 374.33L342.50 374.33L342.50 379.75L343.35 379.75L343.35 376.70L344.20 376.70L344.20 378.86L345.05 378.86L345.05 383.82L345.90 383.82L345.90 379.01L346.75 379.01L346.75 381.08L347.60 381.08L347.60 383.58L348.45 383.58L348.45 384.72L349.30 384.72L349.30 383.49L350.15 383.49L350.15 379.77L351.00 379.77L351.00 381.61L351.85 381.61L351.85 378.18L352.70 378.18L352.70 376.55L353.55 376.55L353.55 374.50L354.40 374.50L354.40 374.17L355.25 374.17L355.25 377.16L356.10 377.16L356.10 369.20L356.95 369.20L356.95 376.15L357.80 376.15L357.80 375.01L358.65 375.01L358.65 372.79L359.50 372.79L359.50 370.39L360.35 370.39L360.35 373.45L361.20 373.45L361.20 377.88L362.05 377.88L362.05 377.61L362.90 377.61L362.90 377.24L363.75 377.24L363.75 380.64L364.60 380.64L364.60 381.90L365.45 381.90L365.45 382.89L366.30 382.89L366.30 382.11L367.15 382.11L367.15 388.59L368.00 388.59L368.00 389.68L368.85 389.68L368.85 388.71L369.70 388.71L369.70 391.82L370.55 391.82L370.55 393.72L371.40 393.72L371.40 395.72L372.25 395.72L372.25 394.56L373.10 394.56L373.10 397.38L373.95 397.38L373.95 397.12L374.80 397.12L374.80 395.26L375.65 395.26L375.65 395.80L376.50 395.80L376.50 399.53L377.35 399.53L377.35 397.42L378.20 397.42L378.20 396.66L379.05 396.66L379.05 397.47L379.90 397.47L379.90 397.20L380.75 397.20L380.75 398.38L381.60 398.38L381.60 397.41L382.45 397.41L382.45 397.61L383.30 397.61L383.30 397.42L384.15 397.42L384.15 397.82L385.00 397.82L385.00 398.11L385.85 398.11L385.85 398.67L386.70 398.67L386.70 399.51L387.55 399.51L387.55 399.54L388.40 399.54L388.40 399.26L389.25 399.26L389.25 400.09L390.10 400.09L390.10 399.23L390.95 399.23L390.95 400.28L391.80 400.28L391.80 399.29L392.65 399.29L392.65 399.05L393.50 399.05L393.50 399.95L394.35 399.95L394.35 398.04L395.20 398.04L395.20 398.36L396.05 398.36L396.05 399.73L396.90 399.73L396.90 399.99L397.75 399.99L397.75 399.28L398.60 399.28L398.60 399.37L399.45 399.37L399.45 401.03L400.30 401.03L400.30 400.93L401.15 400.93L401.15 399.95L402.00 399.95L402.00 399.41L402.85 399.41L402.85 400.02L403.70 400.02L403.70 400.02L404.55 400.02L404.55 399.42L405.40 399.42L405.40 399.44L406.25 399.44L406.25 399.43L407.10 399.43L407.10 399.17L407.95 399.17L407.95 400.09L408.80 400.09L408.80 400.94L409.65 400.94L409.65 399.56L410.50 399.56L410.50 399.97L411.35 399.97L411.35 400.64L412.20 400.64L412.20 399.70L413.05 399.70L413.05 398.80L413.90 398.80L413.90 399.89L414.75 399.89L414.75 399.13L415.60 399.13L415.60 399.60L416.45 399.60L416.45 399.98L417.30 399.98L417.30 398.84L418.15 398.84L418.15 399.69L419.00 399.69L419.00 400.57L419.85 400.57L419.85 400.60L420.70 400.60L420.70 400.43L421.55 400.43L421.55 400.04L422.40 400.04L422.40 399.74L423.25 399.74L423.25 400.10L424.10 400.10L424.10 399.43L424.95 399.43L424.95 400.90L425.80 400.90L425.80 399.55L426.65 399.55L426.65 401.32L427.50 401.32L427.50 399.95L428.35 399.95L428.35 401.88L429.20 401.88L429.20 400.01L430.05 400.01L430.05 400.69L430.90 400.69L430.90 399.29L431.75 399.29L431.75 399.55L432.60 399.55L432.60 400.32L433.45 400.32L433.45 400.14L434.30 400.14L434.30 401.73L435.15 401.73L435.15 399.18L436.00 399.18L436.00 399.17L436.85 399.17L436.85 400.67L437.70 400.67L437.70 400.35L438.55 400.35L438.55 398.48L439.40 398.48L439.40 400.13L440.25 400.13L440.25 399.93L441.10 399.93L441.10 401.20L441.95 401.20L441.95 400.22L442.80 400.22L442.80 401.58L443.65 401.58L443.65 399.35L444.50 399.35L444.50 398.72L445.35 398.72L445.35 400.58L446.20 400.58L446.20 400.64L447.05 400.64L447.05 400.16L447.90 400.16L447.90 400.97L448.75 400.97L448.75 401.15L449.60 401.15L449.60 399.91L450.45 399.91L450.45 401.45L451.30 401.45L451.30 399.73L452.15 399.73L452.15 399.81L453.00 399.81L453.00 401.17L453.85 401.17L453.85 399.94L454.70 399.94L454.70 400.88L455.55 400.88L455.55 399.76L456.40 399.76L456.40 401.91L457.25 401.91L457.25 400.06L458.10 400.06L458.10 400.15L458.95 400.15L458.95 401.20L459.80 401.20L459.80 400.56L460.65 400.56L460.65 400.99L461.50 400.99L461.50 400.08L462.35 400.08L462.35 399.42L463.20 399.42L463.20 400.06L464.05 400.06L464.05 399.06L464.90 399.06L464.90 400.26L465.75 400.26L465.75 401.25L466.60 401.25L466.60 400.44L467.45 400.44L467.45 400.72L468.30 400.72L468.30 400.57L469.15 400.57L469.15 400.65L470.00 400.65L470.00 401.37L470.85 401.37L470.85 401.31L471.70 401.31L471.70 399.67L472.55 399.67L472.55 399.91L473.40 399.91L473.40 400.38L474.25 400.38L474.25 401.08L475.10 401.08L475.10 400.86L475.95 400.86L475.95 400.78L476.80 400.78L476.80 401.31L477.65 401.31L477.65 400.11L478.50 400.11L478.50 401.35L479.35 401.35L479.35 400.53L480.20 400.53L480.20 401.07L481.05 401.07L481.05 400.53L481.90 400.53L481.90 401.05L482.75 401.05L482.75 400.68L483.60 400.68L483.60 400.47L484.45 400.47L484.45 401.33L485.30 401.33L485.30 401.09L486.15 401.09L486.15 401.45L487.00 401.45L487.00 401.57L487.85 401.57L487.85 400.37L488.70 400.37L488.70 401.33L489.55 401.33L489.55 400.97L490.40 400.97L490.40 400.84L491.25 400.84L491.25 399.89L492.10 399.89L492.10 400.08L492.95 400.08L492.95 400.33L493.80 400.33L493.80 400.20L494.65 400.20L494.65 400.13L495.50 400.13L495.50 401.57L496.35 401.57L496.35 401.50L497.20 401.50L497.20 400.28L498.05 400.28L498.05 400.63L498.90 400.63L498.90 400.95L499.75 400.95L499.75 400.22L500.60 400.22L500.60 400.80L501.45 400.80L501.45 401.47L502.30 401.47L502.30 400.16L503.15 400.16L503.15 400.24L504.00 400.24L504.00 400.88L504.85 400.88L504.85 401.11L505.70 401.11L505.70 400.67L506.55 400.67L506.55 400.70L507.40 400.70L507.40 401.04L508.25 401.04L508.25 396.64L509.10 396.64L509.10 402.50Z" fill="url(#hp)" stroke="#000" stroke-width="1.1" stroke-linejoin="round"/>
</g>
<text x="416.8" y="273.8" font-size="13.3">G0/1</text>
<text x="503.4" y="273.8" font-size="13.6" text-anchor="end">63.6 %</text>
<text x="416.8" y="290.4" font-size="13.3">S</text>
<text x="501.2" y="290.4" font-size="13.6" text-anchor="end">20.8 %</text>
<text x="416.8" y="307.0" font-size="13.3">G2/M</text>
<text x="503.4" y="307.0" font-size="13.6" text-anchor="end">15.7 %</text>
<text x="416.8" y="323.2" font-size="13.3">Debris</text>
<text x="502.4" y="323.2" font-size="13.6" text-anchor="end">13.7 %</text>
</g>
<g id="hist-C">
<g transform="rotate(-0.36 292.6 561.2)">
<path d="M292.6 488.5H512.0V634.0H292.6Z" fill="#fff" stroke="#000" stroke-width="1.35"/>
<path d="M287.6 632.8H292.6M290.0 627.0H292.6M290.0 621.3H292.6M290.0 615.5H292.6M290.0 609.7H292.6M287.6 603.9H292.6M290.0 598.2H292.6M290.0 592.4H292.6M290.0 586.6H292.6M290.0 580.9H292.6M287.6 575.1H292.6M290.0 569.3H292.6M290.0 563.5H292.6M290.0 557.8H292.6M290.0 552.0H292.6M287.6 546.2H292.6M290.0 540.4H292.6M290.0 534.7H292.6M290.0 528.9H292.6M290.0 523.1H292.6M287.6 517.4H292.6M290.0 511.6H292.6M290.0 505.8H292.6M290.0 500.0H292.6M290.0 494.3H292.6M287.6 488.5H292.6M294.1 634.0V639.0M302.6 634.0V636.6M311.1 634.0V636.6M319.6 634.0V636.6M328.1 634.0V636.6M336.5 634.0V639.0M345.0 634.0V636.6M353.5 634.0V636.6M362.0 634.0V636.6M370.5 634.0V636.6M379.0 634.0V639.0M387.5 634.0V636.6M396.0 634.0V636.6M404.4 634.0V636.6M412.9 634.0V636.6M421.4 634.0V639.0M429.9 634.0V636.6M438.4 634.0V636.6M446.9 634.0V636.6M455.4 634.0V636.6M463.9 634.0V639.0M472.3 634.0V636.6M480.8 634.0V636.6M489.3 634.0V636.6M497.8 634.0V636.6M506.3 634.0V639.0" stroke="#000" stroke-width="1.3" fill="none"/>
<text x="295.1" y="649.9" font-size="10" text-anchor="middle" class="b">0</text>
<text x="337.5" y="649.9" font-size="10" text-anchor="middle" class="b">200</text>
<text x="380.0" y="649.9" font-size="10" text-anchor="middle" class="b">400</text>
<text x="422.4" y="649.9" font-size="10" text-anchor="middle" class="b">600</text>
<text x="464.9" y="649.9" font-size="10" text-anchor="middle" class="b">800</text>
<text x="507.3" y="649.9" font-size="10" text-anchor="middle" class="b">1000</text>
<text x="401.8" y="663.2" font-size="10.1" text-anchor="middle" class="b">Propidium Iodide</text>
<text transform="translate(283.7 631.2) rotate(-90)" font-size="9.7" text-anchor="middle" class="b">0</text>
<text transform="translate(283.7 602.3) rotate(-90)" font-size="9.7" text-anchor="middle" class="b">30</text>
<text transform="translate(283.7 573.5) rotate(-90)" font-size="9.7" text-anchor="middle" class="b">60</text>
<text transform="translate(283.7 544.6) rotate(-90)" font-size="9.7" text-anchor="middle" class="b">90</text>
<text transform="translate(283.7 515.8) rotate(-90)" font-size="9.7" text-anchor="middle" class="b">120</text>
<text transform="translate(283.7 486.9) rotate(-90)" font-size="9.7" text-anchor="middle" class="b">150</text>
<text transform="translate(273.0 561.2) rotate(-90)" font-size="11.1" text-anchor="middle" class="b">Counts</text>
<path d="M294.10 633.40L294.10 629.15L294.95 629.15L294.95 624.67L295.80 624.67L295.80 618.18L296.65 618.18L296.65 612.62L297.50 612.62L297.50 601.36L298.34 601.36L298.34 603.91L299.19 603.91L299.19 599.94L300.04 599.94L300.04 603.66L300.89 603.66L300.89 605.18L301.74 605.18L301.74 603.94L302.59 603.94L302.59 607.29L303.44 607.29L303.44 614.47L304.29 614.47L304.29 614.04L305.13 614.04L305.13 618.57L305.98 618.57L305.98 614.13L306.83 614.13L306.83 621.68L307.68 621.68L307.68 620.63L308.53 620.63L308.53 622.25L309.38 622.25L309.38 619.20L310.23 619.20L310.23 622.20L311.08 622.20L311.08 626.21L311.92 626.21L311.92 625.07L312.77 625.07L312.77 624.54L313.62 624.54L313.62 623.38L314.47 623.38L314.47 624.00L315.32 624.00L315.32 624.68L316.17 624.68L316.17 625.34L317.02 625.34L317.02 624.26L317.87 624.26L317.87 622.88L318.72 622.88L318.72 622.08L319.56 622.08L319.56 621.75L320.41 621.75L320.41 617.26L321.26 617.26L321.26 620.23L322.11 620.23L322.11 618.15L322.96 618.15L322.96 615.25L323.81 615.25L323.81 617.11L324.66 617.11L324.66 616.09L325.51 616.09L325.51 609.39L326.35 609.39L326.35 603.01L327.20 603.01L327.20 605.31L328.05 605.31L328.05 593.98L328.90 593.98L328.90 595.18L329.75 595.18L329.75 592.21L330.60 592.21L330.60 589.06L331.45 589.06L331.45 586.61L332.30 586.61L332.30 585.84L333.14 585.84L333.14 583.94L333.99 583.94L333.99 590.34L334.84 590.34L334.84 585.73L335.69 585.73L335.69 592.15L336.54 592.15L336.54 595.08L337.39 595.08L337.39 601.80L338.24 601.80L338.24 600.07L339.09 600.07L339.09 604.93L339.94 604.93L339.94 603.74L340.78 603.74L340.78 603.41L341.63 603.41L341.63 606.44L342.48 606.44L342.48 600.91L343.33 600.91L343.33 604.59L344.18 604.59L344.18 596.78L345.03 596.78L345.03 605.45L345.88 605.45L345.88 606.14L346.73 606.14L346.73 608.81L347.57 608.81L347.57 607.48L348.42 607.48L348.42 603.02L349.27 603.02L349.27 610.92L350.12 610.92L350.12 606.37L350.97 606.37L350.97 608.56L351.82 608.56L351.82 606.66L352.67 606.66L352.67 601.27L353.52 601.27L353.52 602.75L354.36 602.75L354.36 597.08L355.21 597.08L355.21 595.25L356.06 595.25L356.06 591.67L356.91 591.67L356.91 586.48L357.76 586.48L357.76 589.00L358.61 589.00L358.61 585.14L359.46 585.14L359.46 576.72L360.31 576.72L360.31 572.49L361.16 572.49L361.16 575.90L362.00 575.90L362.00 572.05L362.85 572.05L362.85 572.44L363.70 572.44L363.70 568.45L364.55 568.45L364.55 564.14L365.40 564.14L365.40 566.41L366.25 566.41L366.25 565.75L367.10 565.75L367.10 569.31L367.95 569.31L367.95 575.69L368.79 575.69L368.79 579.27L369.64 579.27L369.64 588.89L370.49 588.89L370.49 592.19L371.34 592.19L371.34 596.32L372.19 596.32L372.19 600.86L373.04 600.86L373.04 603.24L373.89 603.24L373.89 607.37L374.74 607.37L374.74 606.73L375.58 606.73L375.58 610.71L376.43 610.71L376.43 614.94L377.28 614.94L377.28 616.11L378.13 616.11L378.13 618.30L378.98 618.30L378.98 620.00L379.83 620.00L379.83 621.79L380.68 621.79L380.68 623.31L381.53 623.31L381.53 623.44L382.38 623.44L382.38 624.43L383.22 624.43L383.22 624.66L384.07 624.66L384.07 624.66L384.92 624.66L384.92 624.71L385.77 624.71L385.77 626.10L386.62 626.10L386.62 628.59L387.47 628.59L387.47 627.77L388.32 627.77L388.32 626.64L389.17 626.64L389.17 624.57L390.01 624.57L390.01 627.06L390.86 627.06L390.86 628.39L391.71 628.39L391.71 629.62L392.56 629.62L392.56 628.86L393.41 628.86L393.41 628.64L394.26 628.64L394.26 628.46L395.11 628.46L395.11 629.33L395.96 629.33L395.96 629.13L396.80 629.13L396.80 628.22L397.65 628.22L397.65 629.15L398.50 629.15L398.50 629.33L399.35 629.33L399.35 628.67L400.20 628.67L400.20 628.56L401.05 628.56L401.05 630.14L401.90 630.14L401.90 628.17L402.75 628.17L402.75 630.84L403.60 630.84L403.60 629.83L404.44 629.83L404.44 630.57L405.29 630.57L405.29 630.16L406.14 630.16L406.14 629.41L406.99 629.41L406.99 630.22L407.84 630.22L407.84 629.12L408.69 629.12L408.69 629.48L409.54 629.48L409.54 629.32L410.39 629.32L410.39 628.26L411.23 628.26L411.23 630.31L412.08 630.31L412.08 630.44L412.93 630.44L412.93 629.97L413.78 629.97L413.78 629.80L414.63 629.80L414.63 629.54L415.48 629.54L415.48 628.22L416.33 628.22L416.33 630.21L417.18 630.21L417.18 631.22L418.02 631.22L418.02 627.77L418.87 627.77L418.87 628.64L419.72 628.64L419.72 625.47L420.57 625.47L420.57 628.67L421.42 628.67L421.42 629.19L422.27 629.19L422.27 630.38L423.12 630.38L423.12 628.42L423.97 628.42L423.97 630.28L424.82 630.28L424.82 630.46L425.66 630.46L425.66 630.77L426.51 630.77L426.51 630.56L427.36 630.56L427.36 630.63L428.21 630.63L428.21 630.90L429.06 630.90L429.06 630.78L429.91 630.78L429.91 630.61L430.76 630.61L430.76 631.01L431.61 631.01L431.61 630.87L432.45 630.87L432.45 630.66L433.30 630.66L433.30 632.16L434.15 632.16L434.15 631.80L435.00 631.80L435.00 629.72L435.85 629.72L435.85 630.25L436.70 630.25L436.70 631.65L437.55 631.65L437.55 630.14L438.40 630.14L438.40 632.38L439.24 632.38L439.24 630.81L440.09 630.81L440.09 631.47L440.94 631.47L440.94 630.57L441.79 630.57L441.79 631.15L442.64 631.15L442.64 630.51L443.49 630.51L443.49 631.47L444.34 631.47L444.34 631.90L445.19 631.90L445.19 630.80L446.04 630.80L446.04 631.44L446.88 631.44L446.88 631.38L447.73 631.38L447.73 631.75L448.58 631.75L448.58 632.09L449.43 632.09L449.43 631.19L450.28 631.19L450.28 631.60L451.13 631.60L451.13 631.21L451.98 631.21L451.98 631.37L452.83 631.37L452.83 631.10L453.67 631.10L453.67 632.10L454.52 632.10L454.52 632.54L455.37 632.54L455.37 632.62L456.22 632.62L456.22 632.23L457.07 632.23L457.07 631.21L457.92 631.21L457.92 632.47L458.77 632.47L458.77 632.13L459.62 632.13L459.62 631.81L460.46 631.81L460.46 631.49L461.31 631.49L461.31 631.49L462.16 631.49L462.16 630.79L463.01 630.79L463.01 631.11L463.86 631.11L463.86 632.07L464.71 632.07L464.71 631.75L465.56 631.75L465.56 631.53L466.41 631.53L466.41 631.49L467.26 631.49L467.26 630.77L468.10 630.77L468.10 631.67L468.95 631.67L468.95 631.17L469.80 631.17L469.80 631.70L470.65 631.70L470.65 629.39L471.50 629.39L471.50 631.20L472.35 631.20L472.35 632.29L473.20 632.29L473.20 632.52L474.05 632.52L474.05 632.42L474.89 632.42L474.89 630.91L475.74 630.91L475.74 631.64L476.59 631.64L476.59 631.25L477.44 631.25L477.44 631.34L478.29 631.34L478.29 631.99L479.14 631.99L479.14 631.62L479.99 631.62L479.99 631.81L480.84 631.81L480.84 630.61L481.68 630.61L481.68 631.98L482.53 631.98L482.53 631.83L483.38 631.83L483.38 632.05L484.23 632.05L484.23 631.66L485.08 631.66L485.08 631.68L485.93 631.68L485.93 632.76L486.78 632.76L486.78 630.54L487.63 630.54L487.63 630.86L488.48 630.86L488.48 631.64L489.32 631.64L489.32 631.40L490.17 631.40L490.17 630.84L491.02 630.84L491.02 630.72L491.87 630.72L491.87 631.78L492.72 631.78L492.72 631.29L493.57 631.29L493.57 632.20L494.42 632.20L494.42 632.01L495.27 632.01L495.27 631.09L496.11 631.09L496.11 630.79L496.96 630.79L496.96 631.99L497.81 631.99L497.81 631.83L498.66 631.83L498.66 632.27L499.51 632.27L499.51 632.80L500.36 632.80L500.36 632.26L501.21 632.26L501.21 632.10L502.06 632.10L502.06 629.48L502.90 629.48L502.90 632.25L503.75 632.25L503.75 631.47L504.60 631.47L504.60 631.65L505.45 631.65L505.45 632.29L506.30 632.29L506.30 631.47L507.15 631.47L507.15 631.88L508.00 631.88L508.00 631.21L508.85 631.21L508.85 631.43L509.70 631.43L509.70 632.82L510.54 632.82L510.54 627.63L511.39 627.63L511.39 633.40Z" fill="url(#hp)" stroke="#000" stroke-width="1.1" stroke-linejoin="round"/>
</g>
<text x="417.0" y="504.5" font-size="13.3">G0/1</text>
<text x="503.8" y="504.5" font-size="13.6" text-anchor="end">33.4 %</text>
<text x="417.0" y="521.2" font-size="13.3">S</text>
<text x="493.8" y="521.2" font-size="13.6" text-anchor="end">0.0 %</text>
<text x="417.0" y="537.5" font-size="13.3">G2/M</text>
<text x="504.0" y="537.5" font-size="13.6" text-anchor="end">66.6 %</text>
<text x="417.0" y="553.8" font-size="13.3">Debris</text>
<text x="503.0" y="553.8" font-size="13.6" text-anchor="end">13.1 %</text>
</g>
<g id="hist-D">
<g transform="rotate(-0.2 290.0 794.6)">
<path d="M290.0 723.1H511.3V866.1H290.0Z" fill="#fff" stroke="#000" stroke-width="1.35"/>
<path d="M285.0 864.9H290.0M287.4 859.2H290.0M287.4 853.6H290.0M287.4 847.9H290.0M287.4 842.2H290.0M285.0 836.5H290.0M287.4 830.9H290.0M287.4 825.2H290.0M287.4 819.5H290.0M287.4 813.9H290.0M285.0 808.2H290.0M287.4 802.5H290.0M287.4 796.8H290.0M287.4 791.2H290.0M287.4 785.5H290.0M285.0 779.8H290.0M287.4 774.1H290.0M287.4 768.5H290.0M287.4 762.8H290.0M287.4 757.1H290.0M285.0 751.5H290.0M287.4 745.8H290.0M287.4 740.1H290.0M287.4 734.4H290.0M287.4 728.8H290.0M285.0 723.1H290.0M291.3 866.1V871.1M299.9 866.1V868.7M308.4 866.1V868.7M317.0 866.1V868.7M325.5 866.1V868.7M334.1 866.1V871.1M342.6 866.1V868.7M351.2 866.1V868.7M359.7 866.1V868.7M368.3 866.1V868.7M376.9 866.1V871.1M385.4 866.1V868.7M394.0 866.1V868.7M402.5 866.1V868.7M411.1 866.1V868.7M419.6 866.1V871.1M428.2 866.1V868.7M436.8 866.1V868.7M445.3 866.1V868.7M453.9 866.1V868.7M462.4 866.1V871.1M471.0 866.1V868.7M479.5 866.1V868.7M488.1 866.1V868.7M496.6 866.1V868.7M505.2 866.1V871.1" stroke="#000" stroke-width="1.3" fill="none"/>
<text x="292.3" y="881.5" font-size="10" text-anchor="middle" class="b">0</text>
<text x="335.1" y="881.5" font-size="10" text-anchor="middle" class="b">200</text>
<text x="377.9" y="881.5" font-size="10" text-anchor="middle" class="b">400</text>
<text x="420.6" y="881.5" font-size="10" text-anchor="middle" class="b">600</text>
<text x="463.4" y="881.5" font-size="10" text-anchor="middle" class="b">800</text>
<text x="506.2" y="881.5" font-size="10" text-anchor="middle" class="b">1000</text>
<text x="400.1" y="893.7" font-size="10.1" text-anchor="middle" class="b">Propidium Iodide</text>
<text transform="translate(281.1 863.3) rotate(-90)" font-size="9.7" text-anchor="middle" class="b">0</text>
<text transform="translate(281.1 834.9) rotate(-90)" font-size="9.7" text-anchor="middle" class="b">30</text>
<text transform="translate(281.1 806.6) rotate(-90)" font-size="9.7" text-anchor="middle" class="b">60</text>
<text transform="translate(281.1 778.2) rotate(-90)" font-size="9.7" text-anchor="middle" class="b">90</text>
<text transform="translate(281.1 749.9) rotate(-90)" font-size="9.7" text-anchor="middle" class="b">120</text>
<text transform="translate(281.1 721.5) rotate(-90)" font-size="9.7" text-anchor="middle" class="b">150</text>
<text transform="translate(270.4 794.6) rotate(-90)" font-size="11.1" text-anchor="middle" class="b">Counts</text>
<path d="M291.30 865.50L291.30 860.58L292.16 860.58L292.16 855.32L293.01 855.32L293.01 849.37L293.87 849.37L293.87 843.87L294.72 843.87L294.72 841.80L295.58 841.80L295.58 838.56L296.43 838.56L296.43 832.93L297.29 832.93L297.29 819.32L298.14 819.32L298.14 833.31L299.00 833.31L299.00 835.07L299.86 835.07L299.86 833.29L300.71 833.29L300.71 833.12L301.57 833.12L301.57 829.86L302.42 829.86L302.42 834.77L303.28 834.77L303.28 834.87L304.13 834.87L304.13 837.91L304.99 837.91L304.99 838.16L305.85 838.16L305.85 842.01L306.70 842.01L306.70 838.56L307.56 838.56L307.56 844.80L308.41 844.80L308.41 850.01L309.27 850.01L309.27 848.30L310.12 848.30L310.12 849.24L310.98 849.24L310.98 848.52L311.83 848.52L311.83 846.50L312.69 846.50L312.69 848.66L313.55 848.66L313.55 845.46L314.40 845.46L314.40 844.27L315.26 844.27L315.26 845.90L316.11 845.90L316.11 843.98L316.97 843.98L316.97 843.03L317.82 843.03L317.82 842.20L318.68 842.20L318.68 832.40L319.53 832.40L319.53 832.18L320.39 832.18L320.39 827.16L321.25 827.16L321.25 805.83L322.10 805.83L322.10 799.79L322.96 799.79L322.96 785.38L323.81 785.38L323.81 768.66L324.67 768.66L324.67 758.82L325.52 758.82L325.52 748.75L326.38 748.75L326.38 752.62L327.24 752.62L327.24 765.71L328.09 765.71L328.09 772.45L328.95 772.45L328.95 779.73L329.80 779.73L329.80 788.43L330.66 788.43L330.66 797.39L331.51 797.39L331.51 809.43L332.37 809.43L332.37 808.39L333.22 808.39L333.22 820.18L334.08 820.18L334.08 827.47L334.94 827.47L334.94 833.14L335.79 833.14L335.79 834.43L336.65 834.43L336.65 836.97L337.50 836.97L337.50 837.42L338.36 837.42L338.36 839.29L339.21 839.29L339.21 841.20L340.07 841.20L340.07 844.97L340.92 844.97L340.92 846.08L341.78 846.08L341.78 841.58L342.64 841.58L342.64 841.30L343.49 841.30L343.49 842.63L344.35 842.63L344.35 843.58L345.20 843.58L345.20 846.00L346.06 846.00L346.06 845.06L346.91 845.06L346.91 841.53L347.77 841.53L347.77 842.12L348.63 842.12L348.63 841.66L349.48 841.66L349.48 841.81L350.34 841.81L350.34 837.42L351.19 837.42L351.19 842.41L352.05 842.41L352.05 836.08L352.90 836.08L352.90 835.48L353.76 835.48L353.76 834.94L354.61 834.94L354.61 834.55L355.47 834.55L355.47 840.52L356.33 840.52L356.33 839.35L357.18 839.35L357.18 835.30L358.04 835.30L358.04 838.81L358.89 838.81L358.89 843.00L359.75 843.00L359.75 851.80L360.60 851.80L360.60 850.37L361.46 850.37L361.46 852.15L362.31 852.15L362.31 847.92L363.17 847.92L363.17 851.46L364.03 851.46L364.03 854.27L364.88 854.27L364.88 854.80L365.74 854.80L365.74 854.69L366.59 854.69L366.59 856.09L367.45 856.09L367.45 857.43L368.30 857.43L368.30 856.35L369.16 856.35L369.16 857.20L370.02 857.20L370.02 855.64L370.87 855.64L370.87 858.51L371.73 858.51L371.73 857.56L372.58 857.56L372.58 857.41L373.44 857.41L373.44 856.91L374.29 856.91L374.29 857.92L375.15 857.92L375.15 860.49L376.00 860.49L376.00 859.19L376.86 859.19L376.86 859.25L377.72 859.25L377.72 859.21L378.57 859.21L378.57 860.08L379.43 860.08L379.43 859.47L380.28 859.47L380.28 857.78L381.14 857.78L381.14 859.55L381.99 859.55L381.99 858.74L382.85 858.74L382.85 859.60L383.70 859.60L383.70 861.44L384.56 861.44L384.56 860.69L385.42 860.69L385.42 860.44L386.27 860.44L386.27 860.88L387.13 860.88L387.13 861.43L387.98 861.43L387.98 861.12L388.84 861.12L388.84 861.43L389.69 861.43L389.69 862.00L390.55 862.00L390.55 862.36L391.41 862.36L391.41 862.75L392.26 862.75L392.26 862.94L393.12 862.94L393.12 860.75L393.97 860.75L393.97 862.10L394.83 862.10L394.83 861.27L395.68 861.27L395.68 862.33L396.54 862.33L396.54 861.94L397.39 861.94L397.39 863.22L398.25 863.22L398.25 862.36L399.11 862.36L399.11 863.08L399.96 863.08L399.96 861.14L400.82 861.14L400.82 863.12L401.67 863.12L401.67 861.79L402.53 861.79L402.53 862.00L403.38 862.00L403.38 862.81L404.24 862.81L404.24 862.73L405.09 862.73L405.09 863.96L405.95 863.96L405.95 863.63L406.81 863.63L406.81 861.74L407.66 861.74L407.66 864.33L408.52 864.33L408.52 860.12L409.37 860.12L409.37 861.30L410.23 861.30L410.23 863.01L411.08 863.01L411.08 861.72L411.94 861.72L411.94 863.32L412.80 863.32L412.80 863.04L413.65 863.04L413.65 863.17L414.51 863.17L414.51 863.11L415.36 863.11L415.36 862.66L416.22 862.66L416.22 861.02L417.07 861.02L417.07 862.34L417.93 862.34L417.93 862.01L418.78 862.01L418.78 862.40L419.64 862.40L419.64 861.81L420.50 861.81L420.50 863.14L421.35 863.14L421.35 863.02L422.21 863.02L422.21 863.25L423.06 863.25L423.06 863.05L423.92 863.05L423.92 863.31L424.77 863.31L424.77 863.85L425.63 863.85L425.63 863.35L426.48 863.35L426.48 862.24L427.34 862.24L427.34 864.22L428.20 864.22L428.20 863.76L429.05 863.76L429.05 864.05L429.91 864.05L429.91 864.01L430.76 864.01L430.76 863.37L431.62 863.37L431.62 862.66L432.47 862.66L432.47 863.71L433.33 863.71L433.33 861.90L434.19 861.90L434.19 863.53L435.04 863.53L435.04 863.59L435.90 863.59L435.90 863.69L436.75 863.69L436.75 864.10L437.61 864.10L437.61 864.62L438.46 864.62L438.46 863.15L439.32 863.15L439.32 864.84L440.17 864.84L440.17 863.45L441.03 863.45L441.03 864.14L441.89 864.14L441.89 863.88L442.74 863.88L442.74 864.05L443.60 864.05L443.60 864.66L444.45 864.66L444.45 863.90L445.31 863.90L445.31 864.47L446.16 864.47L446.16 864.02L447.02 864.02L447.02 863.08L447.87 863.08L447.87 863.37L448.73 863.37L448.73 863.93L449.59 863.93L449.59 863.01L450.44 863.01L450.44 863.38L451.30 863.38L451.30 863.61L452.15 863.61L452.15 864.78L453.01 864.78L453.01 863.62L453.86 863.62L453.86 862.77L454.72 862.77L454.72 863.45L455.58 863.45L455.58 864.15L456.43 864.15L456.43 863.65L457.29 863.65L457.29 862.25L458.14 862.25L458.14 864.29L459.00 864.29L459.00 864.13L459.85 864.13L459.85 863.72L460.71 863.72L460.71 863.97L461.56 863.97L461.56 863.73L462.42 863.73L462.42 863.47L463.28 863.47L463.28 863.81L464.13 863.81L464.13 864.25L464.99 864.25L464.99 863.59L465.84 863.59L465.84 863.43L466.70 863.43L466.70 863.99L467.55 863.99L467.55 863.62L468.41 863.62L468.41 863.64L469.26 863.64L469.26 863.79L470.12 863.79L470.12 864.28L470.98 864.28L470.98 863.51L471.83 863.51L471.83 863.99L472.69 863.99L472.69 863.94L473.54 863.94L473.54 864.73L474.40 864.73L474.40 864.33L475.25 864.33L475.25 863.58L476.11 863.58L476.11 864.43L476.97 864.43L476.97 863.56L477.82 863.56L477.82 863.95L478.68 863.95L478.68 863.61L479.53 863.61L479.53 863.53L480.39 863.53L480.39 864.09L481.24 864.09L481.24 864.75L482.10 864.75L482.10 864.27L482.95 864.27L482.95 863.96L483.81 863.96L483.81 864.31L484.67 864.31L484.67 864.41L485.52 864.41L485.52 863.33L486.38 863.33L486.38 864.62L487.23 864.62L487.23 863.76L488.09 863.76L488.09 864.93L488.94 864.93L488.94 864.53L489.80 864.53L489.80 864.93L490.65 864.93L490.65 863.91L491.51 863.91L491.51 863.64L492.37 863.64L492.37 863.48L493.22 863.48L493.22 862.96L494.08 862.96L494.08 862.88L494.93 862.88L494.93 863.96L495.79 863.96L495.79 863.65L496.64 863.65L496.64 864.41L497.50 864.41L497.50 864.53L498.36 864.53L498.36 863.78L499.21 863.78L499.21 862.68L500.07 862.68L500.07 864.30L500.92 864.30L500.92 864.11L501.78 864.11L501.78 864.16L502.63 864.16L502.63 864.25L503.49 864.25L503.49 863.79L504.34 863.79L504.34 864.58L505.20 864.58L505.20 864.93L506.06 864.93L506.06 863.28L506.91 863.28L506.91 862.92L507.77 862.92L507.77 863.57L508.62 863.57L508.62 864.71L509.48 864.71L509.48 859.83L510.33 859.83L510.33 865.50Z" fill="url(#hp)" stroke="#000" stroke-width="1.1" stroke-linejoin="round"/>
</g>
<text x="419.5" y="738.8" font-size="13.3">G0/1</text>
<text x="506.2" y="738.8" font-size="13.6" text-anchor="end">65.5 %</text>
<text x="419.5" y="755.0" font-size="13.3">S</text>
<text x="504.0" y="755.0" font-size="13.6" text-anchor="end">15.8 %</text>
<text x="419.5" y="771.2" font-size="13.3">G2/M</text>
<text x="506.2" y="771.2" font-size="13.6" text-anchor="end">18.7 %</text>
<text x="419.5" y="788.0" font-size="13.3">Debris</text>
<text x="505.2" y="788.0" font-size="13.6" text-anchor="end">26.5 %</text>
</g>
</svg>
</body></html>
